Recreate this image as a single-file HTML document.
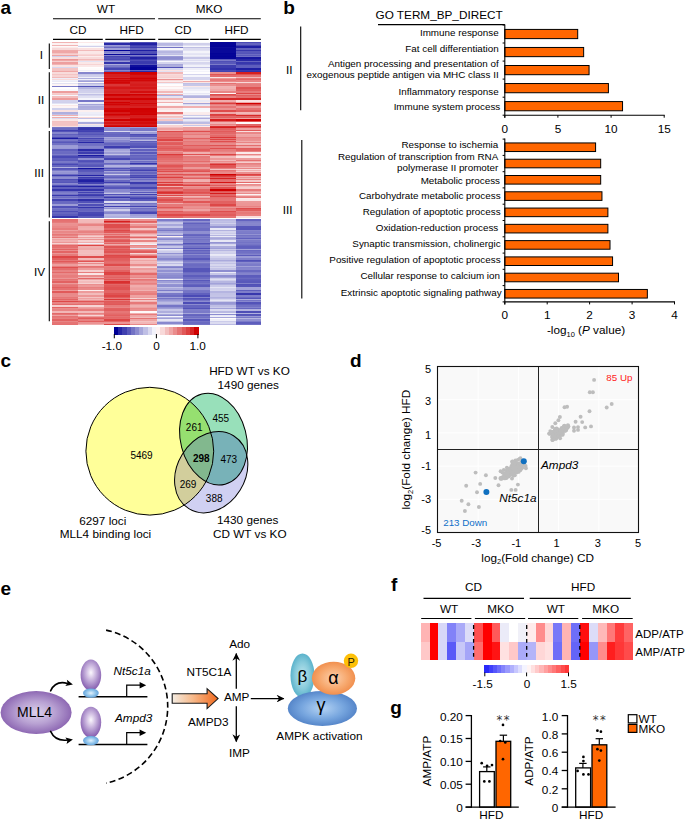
<!DOCTYPE html>
<html lang="en"><head><meta charset="utf-8"><title>Figure</title>
<style>html,body{margin:0;padding:0;background:#fff}svg{display:block}text{font-family:"Liberation Sans", sans-serif}</style>
</head><body>
<svg width="685" height="819" viewBox="0 0 685 819">
<rect width="685" height="819" fill="#fff"/>
<g id="panel-a">
<text x="0.5" y="14.3" font-size="19" font-weight="bold">a</text>
<text x="106.0" y="12.7" font-size="11.75" text-anchor="middle">WT</text>
<text x="209.1" y="12.7" font-size="11.75" text-anchor="middle">MKO</text>
<line x1="53.0" y1="18.8" x2="155.0" y2="18.8" stroke="#000" stroke-width="1.1"/>
<line x1="158.2" y1="18.8" x2="260.8" y2="18.8" stroke="#000" stroke-width="1.1"/>
<text x="78.0" y="34.1" font-size="11.75" text-anchor="middle">CD</text>
<text x="131.7" y="34.1" font-size="11.75" text-anchor="middle">HFD</text>
<text x="183.1" y="34.1" font-size="11.75" text-anchor="middle">CD</text>
<text x="236.5" y="34.1" font-size="11.75" text-anchor="middle">HFD</text>
<line x1="53.0" y1="39.4" x2="102.8" y2="39.4" stroke="#000" stroke-width="1.1"/>
<line x1="105.3" y1="39.4" x2="155.3" y2="39.4" stroke="#000" stroke-width="1.1"/>
<line x1="158.2" y1="39.4" x2="208.7" y2="39.4" stroke="#000" stroke-width="1.1"/>
<line x1="210.3" y1="39.4" x2="260.8" y2="39.4" stroke="#000" stroke-width="1.1"/>
<line x1="49.3" y1="43.6" x2="49.3" y2="68.9" stroke="#000" stroke-width="1.1"/>
<line x1="49.3" y1="72.2" x2="49.3" y2="127.7" stroke="#000" stroke-width="1.1"/>
<line x1="49.3" y1="130.9" x2="49.3" y2="217.6" stroke="#000" stroke-width="1.1"/>
<line x1="49.3" y1="221.2" x2="49.3" y2="321.2" stroke="#000" stroke-width="1.1"/>
<text x="41.4" y="58.9" font-size="11.75" text-anchor="middle">I</text>
<text x="41.0" y="104.3" font-size="11.75" text-anchor="middle">II</text>
<text x="39.1" y="177.3" font-size="11.75" text-anchor="middle">III</text>
<text x="39.6" y="275.8" font-size="11.75" text-anchor="middle">IV</text>
<g shape-rendering="crispEdges">
<g transform="translate(51.60,0)">
<rect y="42" width="26.30" height="1" fill="#f1b4b4"/>
<rect y="43" width="26.30" height="2" fill="#fdf2f2"/>
<rect y="45" width="26.30" height="1" fill="#f1b4b4"/>
<rect y="46" width="26.30" height="1" fill="#fef8f8"/>
<rect y="47" width="26.30" height="1" fill="#fbeaea"/>
<rect y="48" width="26.30" height="2" fill="#f8d8d8"/>
<rect y="50" width="26.30" height="1" fill="#efaaaa"/>
<rect y="51" width="26.30" height="2" fill="#efa7a7"/>
<rect y="53" width="26.30" height="1" fill="#f4c4c4"/>
<rect y="54" width="26.30" height="1" fill="#f7d1d1"/>
<rect y="55" width="26.30" height="1" fill="#eea2a2"/>
<rect y="56" width="26.30" height="1" fill="#d1d1ec"/>
<rect y="57" width="26.30" height="2" fill="#f9dede"/>
<rect y="59" width="26.30" height="1" fill="#eb9595"/>
<rect y="60" width="26.30" height="1" fill="#efa7a7"/>
<rect y="61" width="26.30" height="1" fill="#f6cfcf"/>
<rect y="62" width="26.30" height="2" fill="#ed9e9e"/>
<rect y="64" width="26.30" height="1" fill="#f1b3b3"/>
<rect y="65" width="26.30" height="2" fill="#fae3e3"/>
<rect y="67" width="26.30" height="1" fill="#d7d7ee"/>
<rect y="68" width="26.30" height="2" fill="#f4c5c5"/>
<rect y="70" width="26.30" height="1" fill="#f4c2c2"/>
<rect y="71" width="26.30" height="1" fill="#efa6a6"/>
<rect y="72" width="26.30" height="2" fill="#f8dbdb"/>
<rect y="74" width="26.30" height="1" fill="#f4c5c5"/>
<rect y="75" width="26.30" height="2" fill="#f7d4d4"/>
<rect y="77" width="26.30" height="1" fill="#f2baba"/>
<rect y="78" width="26.30" height="1" fill="#ededf8"/>
<rect y="79" width="26.30" height="1" fill="#f8dbdb"/>
<rect y="80" width="26.30" height="1" fill="#efeff9"/>
<rect y="81" width="26.30" height="1" fill="#e9e9f6"/>
<rect y="82" width="26.30" height="1" fill="#fffdfd"/>
<rect y="83" width="26.30" height="1" fill="#e2e2f3"/>
<rect y="84" width="26.30" height="2" fill="#fdf4f4"/>
<rect y="86" width="26.30" height="1" fill="#7a7ac8"/>
<rect y="87" width="26.30" height="2" fill="#fffefe"/>
<rect y="89" width="26.30" height="2" fill="#f9f9fd"/>
<rect y="91" width="26.30" height="2" fill="#ed9d9d"/>
<rect y="93" width="26.30" height="1" fill="#f6cece"/>
<rect y="94" width="26.30" height="1" fill="#f5c8c8"/>
<rect y="95" width="26.30" height="1" fill="#f6f6fb"/>
<rect y="96" width="26.30" height="2" fill="#f3bebe"/>
<rect y="98" width="26.30" height="2" fill="#ed9b9b"/>
<rect y="100" width="26.30" height="2" fill="#d2d2ed"/>
<rect y="102" width="26.30" height="1" fill="#d0d0ec"/>
<rect y="103" width="26.30" height="1" fill="#e2e2f3"/>
<rect y="104" width="26.30" height="1" fill="#fbfbfd"/>
<rect y="105" width="26.30" height="1" fill="#fbe8e8"/>
<rect y="106" width="26.30" height="2" fill="#fdf5f5"/>
<rect y="108" width="26.30" height="2" fill="#d0d0ec"/>
<rect y="110" width="26.30" height="2" fill="#f9e1e1"/>
<rect y="112" width="26.30" height="2" fill="#afafde"/>
<rect y="114" width="26.30" height="1" fill="#c1c1e6"/>
<rect y="115" width="26.30" height="1" fill="#f1b2b2"/>
<rect y="116" width="26.30" height="1" fill="#f6f6fb"/>
<rect y="117" width="26.30" height="1" fill="#efabab"/>
<rect y="118" width="26.30" height="1" fill="#dbdbf0"/>
<rect y="119" width="26.30" height="2" fill="#fbe7e7"/>
<rect y="121" width="26.30" height="1" fill="#f4c1c1"/>
<rect y="122" width="26.30" height="2" fill="#f4c4c4"/>
<rect y="124" width="26.30" height="1" fill="#f4c3c3"/>
<rect y="125" width="26.30" height="1" fill="#f5c6c6"/>
<rect y="126" width="26.30" height="1" fill="#f9dede"/>
<rect y="127" width="26.30" height="1" fill="#7676c6"/>
<rect y="128" width="26.30" height="2" fill="#6a6ac1"/>
<rect y="130" width="26.30" height="1" fill="#4040b1"/>
<rect y="131" width="26.30" height="1" fill="#5454b8"/>
<rect y="132" width="26.30" height="2" fill="#8585cd"/>
<rect y="134" width="26.30" height="1" fill="#6161be"/>
<rect y="135" width="26.30" height="2" fill="#6f6fc4"/>
<rect y="137" width="26.30" height="1" fill="#4b4bb5"/>
<rect y="138" width="26.30" height="1" fill="#1b1ba1"/>
<rect y="139" width="26.30" height="1" fill="#7272c5"/>
<rect y="140" width="26.30" height="1" fill="#7979c8"/>
<rect y="141" width="26.30" height="1" fill="#6464bf"/>
<rect y="142" width="26.30" height="1" fill="#5858ba"/>
<rect y="143" width="26.30" height="2" fill="#7171c4"/>
<rect y="145" width="26.30" height="1" fill="#9a9ad5"/>
<rect y="146" width="26.30" height="2" fill="#9d9dd7"/>
<rect y="148" width="26.30" height="1" fill="#9999d5"/>
<rect y="149" width="26.30" height="2" fill="#5e5ebd"/>
<rect y="151" width="26.30" height="1" fill="#6d6dc3"/>
<rect y="152" width="26.30" height="2" fill="#6b6bc2"/>
<rect y="154" width="26.30" height="1" fill="#7c7cc9"/>
<rect y="155" width="26.30" height="1" fill="#6161be"/>
<rect y="156" width="26.30" height="2" fill="#4949b4"/>
<rect y="158" width="26.30" height="2" fill="#6060be"/>
<rect y="160" width="26.30" height="1" fill="#5c5cbc"/>
<rect y="161" width="26.30" height="1" fill="#7979c8"/>
<rect y="162" width="26.30" height="1" fill="#7777c7"/>
<rect y="163" width="26.30" height="1" fill="#6060be"/>
<rect y="164" width="26.30" height="1" fill="#4848b4"/>
<rect y="165" width="26.30" height="2" fill="#6464bf"/>
<rect y="167" width="26.30" height="1" fill="#b2b2df"/>
<rect y="168" width="26.30" height="1" fill="#5252b8"/>
<rect y="169" width="26.30" height="1" fill="#5b5bbc"/>
<rect y="170" width="26.30" height="1" fill="#7b7bc9"/>
<rect y="171" width="26.30" height="1" fill="#9d9dd7"/>
<rect y="172" width="26.30" height="2" fill="#9595d3"/>
<rect y="174" width="26.30" height="1" fill="#6c6cc2"/>
<rect y="175" width="26.30" height="1" fill="#3d3daf"/>
<rect y="176" width="26.30" height="1" fill="#7878c7"/>
<rect y="177" width="26.30" height="1" fill="#8d8dd0"/>
<rect y="178" width="26.30" height="1" fill="#8d8dd0"/>
<rect y="179" width="26.30" height="1" fill="#4d4db6"/>
<rect y="180" width="26.30" height="2" fill="#5d5dbc"/>
<rect y="182" width="26.30" height="1" fill="#5656b9"/>
<rect y="183" width="26.30" height="1" fill="#8a8acf"/>
<rect y="184" width="26.30" height="1" fill="#8080cb"/>
<rect y="185" width="26.30" height="1" fill="#5555b9"/>
<rect y="186" width="26.30" height="1" fill="#2f2fa9"/>
<rect y="187" width="26.30" height="2" fill="#6060bd"/>
<rect y="189" width="26.30" height="2" fill="#3535ac"/>
<rect y="191" width="26.30" height="1" fill="#6d6dc3"/>
<rect y="192" width="26.30" height="1" fill="#7b7bc9"/>
<rect y="193" width="26.30" height="1" fill="#8383cc"/>
<rect y="194" width="26.30" height="1" fill="#7070c4"/>
<rect y="195" width="26.30" height="1" fill="#3838ad"/>
<rect y="196" width="26.30" height="1" fill="#7474c6"/>
<rect y="197" width="26.30" height="1" fill="#6d6dc3"/>
<rect y="198" width="26.30" height="1" fill="#8686cd"/>
<rect y="199" width="26.30" height="2" fill="#4242b1"/>
<rect y="201" width="26.30" height="2" fill="#6969c1"/>
<rect y="203" width="26.30" height="1" fill="#6c6cc2"/>
<rect y="204" width="26.30" height="2" fill="#9c9cd6"/>
<rect y="206" width="26.30" height="1" fill="#5050b7"/>
<rect y="207" width="26.30" height="1" fill="#5050b7"/>
<rect y="208" width="26.30" height="1" fill="#7777c7"/>
<rect y="209" width="26.30" height="2" fill="#6d6dc3"/>
<rect y="211" width="26.30" height="1" fill="#4d4db6"/>
<rect y="212" width="26.30" height="2" fill="#6666c0"/>
<rect y="214" width="26.30" height="2" fill="#5c5cbc"/>
<rect y="216" width="26.30" height="2" fill="#3636ac"/>
<rect y="219" width="26.30" height="2" fill="#e57070"/>
<rect y="221" width="26.30" height="1" fill="#e57373"/>
<rect y="222" width="26.30" height="1" fill="#e77b7b"/>
<rect y="223" width="26.30" height="1" fill="#eb9393"/>
<rect y="224" width="26.30" height="2" fill="#eb9090"/>
<rect y="226" width="26.30" height="2" fill="#e98888"/>
<rect y="228" width="26.30" height="2" fill="#e77c7c"/>
<rect y="230" width="26.30" height="1" fill="#eea0a0"/>
<rect y="231" width="26.30" height="2" fill="#e98888"/>
<rect y="233" width="26.30" height="1" fill="#eb9393"/>
<rect y="234" width="26.30" height="1" fill="#e67777"/>
<rect y="235" width="26.30" height="1" fill="#e88282"/>
<rect y="236" width="26.30" height="1" fill="#ec9898"/>
<rect y="237" width="26.30" height="1" fill="#e67676"/>
<rect y="238" width="26.30" height="1" fill="#f2baba"/>
<rect y="239" width="26.30" height="1" fill="#eea3a3"/>
<rect y="240" width="26.30" height="2" fill="#f1b1b1"/>
<rect y="242" width="26.30" height="1" fill="#ec9797"/>
<rect y="243" width="26.30" height="1" fill="#f7d2d2"/>
<rect y="244" width="26.30" height="1" fill="#ed9f9f"/>
<rect y="245" width="26.30" height="1" fill="#e36767"/>
<rect y="246" width="26.30" height="2" fill="#e56f6f"/>
<rect y="248" width="26.30" height="1" fill="#e88383"/>
<rect y="249" width="26.30" height="1" fill="#e26464"/>
<rect y="250" width="26.30" height="1" fill="#ea8d8d"/>
<rect y="251" width="26.30" height="2" fill="#e36565"/>
<rect y="253" width="26.30" height="1" fill="#eb9494"/>
<rect y="254" width="26.30" height="1" fill="#e77b7b"/>
<rect y="255" width="26.30" height="1" fill="#e67979"/>
<rect y="256" width="26.30" height="2" fill="#dd4545"/>
<rect y="258" width="26.30" height="2" fill="#e15f5f"/>
<rect y="260" width="26.30" height="1" fill="#e67878"/>
<rect y="261" width="26.30" height="1" fill="#e05959"/>
<rect y="262" width="26.30" height="1" fill="#e57070"/>
<rect y="263" width="26.30" height="1" fill="#e88181"/>
<rect y="264" width="26.30" height="2" fill="#ed9d9d"/>
<rect y="266" width="26.30" height="1" fill="#e77e7e"/>
<rect y="267" width="26.30" height="1" fill="#df5050"/>
<rect y="268" width="26.30" height="2" fill="#e46c6c"/>
<rect y="270" width="26.30" height="2" fill="#e88383"/>
<rect y="272" width="26.30" height="1" fill="#e36a6a"/>
<rect y="273" width="26.30" height="2" fill="#e98989"/>
<rect y="275" width="26.30" height="2" fill="#e77d7d"/>
<rect y="277" width="26.30" height="1" fill="#e88080"/>
<rect y="278" width="26.30" height="1" fill="#eb9595"/>
<rect y="279" width="26.30" height="1" fill="#e57373"/>
<rect y="280" width="26.30" height="1" fill="#e77c7c"/>
<rect y="281" width="26.30" height="2" fill="#e26262"/>
<rect y="283" width="26.30" height="1" fill="#ec9a9a"/>
<rect y="284" width="26.30" height="1" fill="#e77f7f"/>
<rect y="285" width="26.30" height="2" fill="#e67575"/>
<rect y="287" width="26.30" height="1" fill="#e26161"/>
<rect y="288" width="26.30" height="2" fill="#e57070"/>
<rect y="290" width="26.30" height="1" fill="#ec9999"/>
<rect y="291" width="26.30" height="2" fill="#e15a5a"/>
<rect y="293" width="26.30" height="2" fill="#e98a8a"/>
<rect y="295" width="26.30" height="2" fill="#ea8b8b"/>
<rect y="297" width="26.30" height="1" fill="#e67676"/>
<rect y="298" width="26.30" height="1" fill="#e77d7d"/>
<rect y="299" width="26.30" height="1" fill="#e26464"/>
<rect y="300" width="26.30" height="1" fill="#e88181"/>
<rect y="301" width="26.30" height="1" fill="#dd4949"/>
<rect y="302" width="26.30" height="2" fill="#e88484"/>
<rect y="304" width="26.30" height="1" fill="#e46b6b"/>
<rect y="305" width="26.30" height="2" fill="#f6cfcf"/>
<rect y="307" width="26.30" height="1" fill="#e36565"/>
<rect y="308" width="26.30" height="1" fill="#ea8d8d"/>
<rect y="309" width="26.30" height="2" fill="#e98585"/>
<rect y="311" width="26.30" height="2" fill="#f2b7b7"/>
<rect y="313" width="26.30" height="1" fill="#e36969"/>
<rect y="314" width="26.30" height="1" fill="#e67777"/>
<rect y="315" width="26.30" height="1" fill="#eea3a3"/>
<rect y="316" width="26.30" height="1" fill="#e57373"/>
<rect y="317" width="26.30" height="1" fill="#e67878"/>
<rect y="318" width="26.30" height="1" fill="#e77e7e"/>
<rect y="319" width="26.30" height="2" fill="#e26363"/>
<rect y="321" width="26.30" height="1" fill="#e88585"/>
<rect y="322" width="26.30" height="2" fill="#e57474"/>
<rect y="324" width="26.30" height="0.5" fill="#e57171"/>
</g>
<g transform="translate(77.60,0)">
<rect y="42" width="26.70" height="1" fill="#fbe8e8"/>
<rect y="43" width="26.70" height="2" fill="#fdfdfe"/>
<rect y="45" width="26.70" height="1" fill="#f3f3fa"/>
<rect y="46" width="26.70" height="1" fill="#d1d1ec"/>
<rect y="47" width="26.70" height="1" fill="#fefbfb"/>
<rect y="48" width="26.70" height="2" fill="#fae1e1"/>
<rect y="50" width="26.70" height="1" fill="#f2baba"/>
<rect y="51" width="26.70" height="2" fill="#fbe7e7"/>
<rect y="53" width="26.70" height="1" fill="#fae6e6"/>
<rect y="54" width="26.70" height="1" fill="#f8d6d6"/>
<rect y="55" width="26.70" height="1" fill="#f6cccc"/>
<rect y="56" width="26.70" height="1" fill="#fcecec"/>
<rect y="57" width="26.70" height="2" fill="#f8dada"/>
<rect y="59" width="26.70" height="1" fill="#f2b8b8"/>
<rect y="60" width="26.70" height="1" fill="#f6d0d0"/>
<rect y="61" width="26.70" height="1" fill="#e3e3f3"/>
<rect y="62" width="26.70" height="2" fill="#fbe7e7"/>
<rect y="64" width="26.70" height="1" fill="#f7d3d3"/>
<rect y="65" width="26.70" height="2" fill="#fbe8e8"/>
<rect y="67" width="26.70" height="1" fill="#fffefe"/>
<rect y="68" width="26.70" height="2" fill="#fefbfb"/>
<rect y="70" width="26.70" height="1" fill="#f1f1f9"/>
<rect y="71" width="26.70" height="1" fill="#fefafa"/>
<rect y="72" width="26.70" height="2" fill="#8686cd"/>
<rect y="74" width="26.70" height="1" fill="#c5c5e7"/>
<rect y="75" width="26.70" height="2" fill="#ceceeb"/>
<rect y="77" width="26.70" height="1" fill="#f0f0f9"/>
<rect y="78" width="26.70" height="1" fill="#afafde"/>
<rect y="79" width="26.70" height="1" fill="#f0f0f9"/>
<rect y="80" width="26.70" height="1" fill="#b6b6e1"/>
<rect y="81" width="26.70" height="1" fill="#a0a0d8"/>
<rect y="82" width="26.70" height="1" fill="#fef8f8"/>
<rect y="83" width="26.70" height="1" fill="#b8b8e2"/>
<rect y="84" width="26.70" height="2" fill="#ceceeb"/>
<rect y="86" width="26.70" height="1" fill="#5151b7"/>
<rect y="87" width="26.70" height="2" fill="#b5b5e1"/>
<rect y="89" width="26.70" height="2" fill="#ceceeb"/>
<rect y="91" width="26.70" height="2" fill="#d1d1ec"/>
<rect y="93" width="26.70" height="1" fill="#e5e5f4"/>
<rect y="94" width="26.70" height="1" fill="#c0c0e5"/>
<rect y="95" width="26.70" height="1" fill="#d3d3ed"/>
<rect y="96" width="26.70" height="2" fill="#e0e0f2"/>
<rect y="98" width="26.70" height="2" fill="#f5f5fb"/>
<rect y="100" width="26.70" height="2" fill="#7676c7"/>
<rect y="102" width="26.70" height="1" fill="#ececf7"/>
<rect y="103" width="26.70" height="1" fill="#e9e9f6"/>
<rect y="104" width="26.70" height="1" fill="#a4a4da"/>
<rect y="105" width="26.70" height="1" fill="#c2c2e6"/>
<rect y="106" width="26.70" height="2" fill="#acacdd"/>
<rect y="108" width="26.70" height="2" fill="#afafde"/>
<rect y="110" width="26.70" height="2" fill="#fcf0f0"/>
<rect y="112" width="26.70" height="2" fill="#eeeef8"/>
<rect y="114" width="26.70" height="1" fill="#e8e8f6"/>
<rect y="115" width="26.70" height="1" fill="#ececf7"/>
<rect y="116" width="26.70" height="1" fill="#fefbfb"/>
<rect y="117" width="26.70" height="1" fill="#f8d7d7"/>
<rect y="118" width="26.70" height="1" fill="#c0c0e5"/>
<rect y="119" width="26.70" height="2" fill="#fef7f7"/>
<rect y="121" width="26.70" height="1" fill="#f1f1f9"/>
<rect y="122" width="26.70" height="2" fill="#aaaadc"/>
<rect y="124" width="26.70" height="1" fill="#fae5e5"/>
<rect y="125" width="26.70" height="1" fill="#e0e0f2"/>
<rect y="126" width="26.70" height="1" fill="#e0e0f2"/>
<rect y="127" width="26.70" height="1" fill="#3c3caf"/>
<rect y="128" width="26.70" height="2" fill="#3535ac"/>
<rect y="130" width="26.70" height="1" fill="#4444b2"/>
<rect y="131" width="26.70" height="1" fill="#4141b1"/>
<rect y="132" width="26.70" height="2" fill="#5f5fbd"/>
<rect y="134" width="26.70" height="1" fill="#5555b9"/>
<rect y="135" width="26.70" height="2" fill="#6868c1"/>
<rect y="137" width="26.70" height="1" fill="#7d7dca"/>
<rect y="138" width="26.70" height="1" fill="#4545b2"/>
<rect y="139" width="26.70" height="1" fill="#6565c0"/>
<rect y="140" width="26.70" height="1" fill="#5353b8"/>
<rect y="141" width="26.70" height="1" fill="#5f5fbd"/>
<rect y="142" width="26.70" height="1" fill="#2727a6"/>
<rect y="143" width="26.70" height="2" fill="#6f6fc4"/>
<rect y="145" width="26.70" height="1" fill="#7272c5"/>
<rect y="146" width="26.70" height="2" fill="#8585cd"/>
<rect y="148" width="26.70" height="1" fill="#7e7eca"/>
<rect y="149" width="26.70" height="2" fill="#2b2ba8"/>
<rect y="151" width="26.70" height="1" fill="#5a5abb"/>
<rect y="152" width="26.70" height="2" fill="#3d3daf"/>
<rect y="154" width="26.70" height="1" fill="#8888ce"/>
<rect y="155" width="26.70" height="1" fill="#1b1ba1"/>
<rect y="156" width="26.70" height="2" fill="#4646b3"/>
<rect y="158" width="26.70" height="2" fill="#9191d2"/>
<rect y="160" width="26.70" height="1" fill="#5454b9"/>
<rect y="161" width="26.70" height="1" fill="#4f4fb7"/>
<rect y="162" width="26.70" height="1" fill="#6060be"/>
<rect y="163" width="26.70" height="1" fill="#6a6ac2"/>
<rect y="164" width="26.70" height="1" fill="#5e5ebd"/>
<rect y="165" width="26.70" height="2" fill="#5656b9"/>
<rect y="167" width="26.70" height="1" fill="#8d8dd0"/>
<rect y="168" width="26.70" height="1" fill="#14149e"/>
<rect y="169" width="26.70" height="1" fill="#4d4db6"/>
<rect y="170" width="26.70" height="1" fill="#5656b9"/>
<rect y="171" width="26.70" height="1" fill="#5a5abb"/>
<rect y="172" width="26.70" height="2" fill="#6c6cc2"/>
<rect y="174" width="26.70" height="1" fill="#6868c1"/>
<rect y="175" width="26.70" height="1" fill="#2424a5"/>
<rect y="176" width="26.70" height="1" fill="#7e7eca"/>
<rect y="177" width="26.70" height="1" fill="#3d3daf"/>
<rect y="178" width="26.70" height="1" fill="#4f4fb7"/>
<rect y="179" width="26.70" height="1" fill="#2a2aa7"/>
<rect y="180" width="26.70" height="2" fill="#2121a3"/>
<rect y="182" width="26.70" height="1" fill="#4141b1"/>
<rect y="183" width="26.70" height="1" fill="#4444b2"/>
<rect y="184" width="26.70" height="1" fill="#8787cd"/>
<rect y="185" width="26.70" height="1" fill="#6262be"/>
<rect y="186" width="26.70" height="1" fill="#2222a4"/>
<rect y="187" width="26.70" height="2" fill="#5d5dbc"/>
<rect y="189" width="26.70" height="2" fill="#3434ac"/>
<rect y="191" width="26.70" height="1" fill="#7474c6"/>
<rect y="192" width="26.70" height="1" fill="#4242b1"/>
<rect y="193" width="26.70" height="1" fill="#6f6fc4"/>
<rect y="194" width="26.70" height="1" fill="#4444b2"/>
<rect y="195" width="26.70" height="1" fill="#3a3aae"/>
<rect y="196" width="26.70" height="1" fill="#6161be"/>
<rect y="197" width="26.70" height="1" fill="#6565bf"/>
<rect y="198" width="26.70" height="1" fill="#7c7cc9"/>
<rect y="199" width="26.70" height="2" fill="#2f2fa9"/>
<rect y="201" width="26.70" height="2" fill="#5252b8"/>
<rect y="203" width="26.70" height="1" fill="#8d8dd0"/>
<rect y="204" width="26.70" height="2" fill="#4f4fb7"/>
<rect y="206" width="26.70" height="1" fill="#7575c6"/>
<rect y="207" width="26.70" height="1" fill="#3434ab"/>
<rect y="208" width="26.70" height="1" fill="#6262bf"/>
<rect y="209" width="26.70" height="2" fill="#6464bf"/>
<rect y="211" width="26.70" height="1" fill="#6a6ac2"/>
<rect y="212" width="26.70" height="2" fill="#4949b4"/>
<rect y="214" width="26.70" height="2" fill="#4444b2"/>
<rect y="216" width="26.70" height="2" fill="#5c5cbc"/>
<rect y="219" width="26.70" height="2" fill="#f2baba"/>
<rect y="221" width="26.70" height="1" fill="#f2b9b9"/>
<rect y="222" width="26.70" height="1" fill="#f2b7b7"/>
<rect y="223" width="26.70" height="1" fill="#ed9c9c"/>
<rect y="224" width="26.70" height="2" fill="#e88484"/>
<rect y="226" width="26.70" height="2" fill="#f0acac"/>
<rect y="228" width="26.70" height="2" fill="#f0b0b0"/>
<rect y="230" width="26.70" height="1" fill="#eb9494"/>
<rect y="231" width="26.70" height="2" fill="#e88282"/>
<rect y="233" width="26.70" height="1" fill="#ed9c9c"/>
<rect y="234" width="26.70" height="1" fill="#e98787"/>
<rect y="235" width="26.70" height="1" fill="#f2b7b7"/>
<rect y="236" width="26.70" height="1" fill="#f6cece"/>
<rect y="237" width="26.70" height="1" fill="#ed9e9e"/>
<rect y="238" width="26.70" height="1" fill="#f4c5c5"/>
<rect y="239" width="26.70" height="1" fill="#eb9393"/>
<rect y="240" width="26.70" height="2" fill="#f6cfcf"/>
<rect y="242" width="26.70" height="1" fill="#f0aeae"/>
<rect y="243" width="26.70" height="1" fill="#efeff9"/>
<rect y="244" width="26.70" height="1" fill="#f0aeae"/>
<rect y="245" width="26.70" height="1" fill="#dd4646"/>
<rect y="246" width="26.70" height="2" fill="#f0afaf"/>
<rect y="248" width="26.70" height="1" fill="#efa9a9"/>
<rect y="249" width="26.70" height="1" fill="#efa9a9"/>
<rect y="250" width="26.70" height="1" fill="#f3bebe"/>
<rect y="251" width="26.70" height="2" fill="#f3bdbd"/>
<rect y="253" width="26.70" height="1" fill="#f3c0c0"/>
<rect y="254" width="26.70" height="1" fill="#f2b9b9"/>
<rect y="255" width="26.70" height="1" fill="#f2b8b8"/>
<rect y="256" width="26.70" height="2" fill="#de4d4d"/>
<rect y="258" width="26.70" height="2" fill="#f2baba"/>
<rect y="260" width="26.70" height="1" fill="#e88080"/>
<rect y="261" width="26.70" height="1" fill="#e05454"/>
<rect y="262" width="26.70" height="1" fill="#f4c3c3"/>
<rect y="263" width="26.70" height="1" fill="#e98a8a"/>
<rect y="264" width="26.70" height="2" fill="#f3bcbc"/>
<rect y="266" width="26.70" height="1" fill="#e57272"/>
<rect y="267" width="26.70" height="1" fill="#e77b7b"/>
<rect y="268" width="26.70" height="2" fill="#ed9c9c"/>
<rect y="270" width="26.70" height="2" fill="#f6cece"/>
<rect y="272" width="26.70" height="1" fill="#e77d7d"/>
<rect y="273" width="26.70" height="2" fill="#fae4e4"/>
<rect y="275" width="26.70" height="2" fill="#ea8c8c"/>
<rect y="277" width="26.70" height="1" fill="#f2b6b6"/>
<rect y="278" width="26.70" height="1" fill="#e36767"/>
<rect y="279" width="26.70" height="1" fill="#eea2a2"/>
<rect y="280" width="26.70" height="1" fill="#f5caca"/>
<rect y="281" width="26.70" height="2" fill="#f3bdbd"/>
<rect y="283" width="26.70" height="1" fill="#f6d1d1"/>
<rect y="284" width="26.70" height="1" fill="#ea8e8e"/>
<rect y="285" width="26.70" height="2" fill="#ed9b9b"/>
<rect y="287" width="26.70" height="1" fill="#e88080"/>
<rect y="288" width="26.70" height="2" fill="#e98989"/>
<rect y="290" width="26.70" height="1" fill="#fcecec"/>
<rect y="291" width="26.70" height="2" fill="#ed9b9b"/>
<rect y="293" width="26.70" height="2" fill="#f2bbbb"/>
<rect y="295" width="26.70" height="2" fill="#ec9696"/>
<rect y="297" width="26.70" height="1" fill="#f4c2c2"/>
<rect y="298" width="26.70" height="1" fill="#eea1a1"/>
<rect y="299" width="26.70" height="1" fill="#f1b4b4"/>
<rect y="300" width="26.70" height="1" fill="#eb9393"/>
<rect y="301" width="26.70" height="1" fill="#e05555"/>
<rect y="302" width="26.70" height="2" fill="#e88080"/>
<rect y="304" width="26.70" height="1" fill="#e46e6e"/>
<rect y="305" width="26.70" height="2" fill="#f7d4d4"/>
<rect y="307" width="26.70" height="1" fill="#eea0a0"/>
<rect y="308" width="26.70" height="1" fill="#ec9696"/>
<rect y="309" width="26.70" height="2" fill="#e77d7d"/>
<rect y="311" width="26.70" height="2" fill="#f2baba"/>
<rect y="313" width="26.70" height="1" fill="#e88282"/>
<rect y="314" width="26.70" height="1" fill="#ec9595"/>
<rect y="315" width="26.70" height="1" fill="#f7d5d5"/>
<rect y="316" width="26.70" height="1" fill="#ed9d9d"/>
<rect y="317" width="26.70" height="1" fill="#e46e6e"/>
<rect y="318" width="26.70" height="1" fill="#e15b5b"/>
<rect y="319" width="26.70" height="2" fill="#e88080"/>
<rect y="321" width="26.70" height="1" fill="#e25f5f"/>
<rect y="322" width="26.70" height="2" fill="#eb9393"/>
<rect y="324" width="26.70" height="0.5" fill="#f0afaf"/>
</g>
<g transform="translate(104.00,0)">
<rect y="42" width="26.60" height="1" fill="#8989ce"/>
<rect y="43" width="26.60" height="2" fill="#2929a7"/>
<rect y="45" width="26.60" height="1" fill="#9a9ad5"/>
<rect y="46" width="26.60" height="1" fill="#8585cd"/>
<rect y="47" width="26.60" height="1" fill="#6666c0"/>
<rect y="48" width="26.60" height="2" fill="#a0a0d8"/>
<rect y="50" width="26.60" height="1" fill="#020297"/>
<rect y="51" width="26.60" height="2" fill="#8383cc"/>
<rect y="53" width="26.60" height="1" fill="#9898d4"/>
<rect y="54" width="26.60" height="1" fill="#080899"/>
<rect y="55" width="26.60" height="1" fill="#8585cd"/>
<rect y="56" width="26.60" height="1" fill="#4747b3"/>
<rect y="57" width="26.60" height="2" fill="#5252b8"/>
<rect y="59" width="26.60" height="1" fill="#4949b4"/>
<rect y="60" width="26.60" height="1" fill="#7272c5"/>
<rect y="61" width="26.60" height="1" fill="#9797d4"/>
<rect y="62" width="26.60" height="2" fill="#3434ab"/>
<rect y="64" width="26.60" height="1" fill="#acacdd"/>
<rect y="65" width="26.60" height="2" fill="#7b7bc8"/>
<rect y="67" width="26.60" height="1" fill="#6161be"/>
<rect y="68" width="26.60" height="2" fill="#4545b3"/>
<rect y="70" width="26.60" height="1" fill="#8787ce"/>
<rect y="71" width="26.60" height="1" fill="#6565c0"/>
<rect y="72" width="26.60" height="2" fill="#d20909"/>
<rect y="74" width="26.60" height="1" fill="#d62121"/>
<rect y="75" width="26.60" height="2" fill="#d62020"/>
<rect y="77" width="26.60" height="1" fill="#d82a2a"/>
<rect y="78" width="26.60" height="1" fill="#d10707"/>
<rect y="79" width="26.60" height="1" fill="#d61f1f"/>
<rect y="80" width="26.60" height="1" fill="#d10606"/>
<rect y="81" width="26.60" height="1" fill="#d30e0e"/>
<rect y="82" width="26.60" height="1" fill="#d10505"/>
<rect y="83" width="26.60" height="1" fill="#d31010"/>
<rect y="84" width="26.60" height="2" fill="#da3636"/>
<rect y="86" width="26.60" height="1" fill="#d72727"/>
<rect y="87" width="26.60" height="2" fill="#d41818"/>
<rect y="89" width="26.60" height="2" fill="#d72626"/>
<rect y="91" width="26.60" height="2" fill="#d62222"/>
<rect y="93" width="26.60" height="1" fill="#d82c2c"/>
<rect y="94" width="26.60" height="1" fill="#d00000"/>
<rect y="95" width="26.60" height="1" fill="#d10505"/>
<rect y="96" width="26.60" height="2" fill="#d61f1f"/>
<rect y="98" width="26.60" height="2" fill="#d00000"/>
<rect y="100" width="26.60" height="2" fill="#d62222"/>
<rect y="102" width="26.60" height="1" fill="#d00000"/>
<rect y="103" width="26.60" height="1" fill="#d31212"/>
<rect y="104" width="26.60" height="1" fill="#d10505"/>
<rect y="105" width="26.60" height="1" fill="#d51919"/>
<rect y="106" width="26.60" height="2" fill="#d62323"/>
<rect y="108" width="26.60" height="2" fill="#d20909"/>
<rect y="110" width="26.60" height="2" fill="#d00000"/>
<rect y="112" width="26.60" height="2" fill="#d51a1a"/>
<rect y="114" width="26.60" height="1" fill="#d00202"/>
<rect y="115" width="26.60" height="1" fill="#d31212"/>
<rect y="116" width="26.60" height="1" fill="#d72424"/>
<rect y="117" width="26.60" height="1" fill="#d72828"/>
<rect y="118" width="26.60" height="1" fill="#d93232"/>
<rect y="119" width="26.60" height="2" fill="#d00000"/>
<rect y="121" width="26.60" height="1" fill="#d92f2f"/>
<rect y="122" width="26.60" height="2" fill="#d41616"/>
<rect y="124" width="26.60" height="1" fill="#d82b2b"/>
<rect y="125" width="26.60" height="1" fill="#d31010"/>
<rect y="126" width="26.60" height="1" fill="#d00000"/>
<rect y="127" width="26.60" height="1" fill="#9898d5"/>
<rect y="128" width="26.60" height="2" fill="#8a8acf"/>
<rect y="130" width="26.60" height="1" fill="#8787ce"/>
<rect y="131" width="26.60" height="1" fill="#dadaf0"/>
<rect y="132" width="26.60" height="2" fill="#6d6dc3"/>
<rect y="134" width="26.60" height="1" fill="#6565bf"/>
<rect y="135" width="26.60" height="2" fill="#6868c1"/>
<rect y="137" width="26.60" height="1" fill="#aaaadc"/>
<rect y="138" width="26.60" height="1" fill="#9595d3"/>
<rect y="139" width="26.60" height="1" fill="#a5a5da"/>
<rect y="140" width="26.60" height="1" fill="#8888ce"/>
<rect y="141" width="26.60" height="1" fill="#8b8bcf"/>
<rect y="142" width="26.60" height="1" fill="#7474c6"/>
<rect y="143" width="26.60" height="2" fill="#6363bf"/>
<rect y="145" width="26.60" height="1" fill="#7272c5"/>
<rect y="146" width="26.60" height="2" fill="#3c3caf"/>
<rect y="148" width="26.60" height="1" fill="#6d6dc3"/>
<rect y="149" width="26.60" height="2" fill="#a6a6db"/>
<rect y="151" width="26.60" height="1" fill="#b4b4e0"/>
<rect y="152" width="26.60" height="2" fill="#9c9cd6"/>
<rect y="154" width="26.60" height="1" fill="#c3c3e6"/>
<rect y="155" width="26.60" height="1" fill="#8181cb"/>
<rect y="156" width="26.60" height="2" fill="#6666c0"/>
<rect y="158" width="26.60" height="2" fill="#4646b3"/>
<rect y="160" width="26.60" height="1" fill="#9595d3"/>
<rect y="161" width="26.60" height="1" fill="#9999d5"/>
<rect y="162" width="26.60" height="1" fill="#9999d5"/>
<rect y="163" width="26.60" height="1" fill="#6767c1"/>
<rect y="164" width="26.60" height="1" fill="#7979c8"/>
<rect y="165" width="26.60" height="2" fill="#b2b2df"/>
<rect y="167" width="26.60" height="1" fill="#8f8fd1"/>
<rect y="168" width="26.60" height="1" fill="#5252b8"/>
<rect y="169" width="26.60" height="1" fill="#7676c7"/>
<rect y="170" width="26.60" height="1" fill="#5959bb"/>
<rect y="171" width="26.60" height="1" fill="#a7a7db"/>
<rect y="172" width="26.60" height="2" fill="#8484cc"/>
<rect y="174" width="26.60" height="1" fill="#c9c9e9"/>
<rect y="175" width="26.60" height="1" fill="#7c7cc9"/>
<rect y="176" width="26.60" height="1" fill="#6d6dc3"/>
<rect y="177" width="26.60" height="1" fill="#6161be"/>
<rect y="178" width="26.60" height="1" fill="#8282cc"/>
<rect y="179" width="26.60" height="1" fill="#9797d4"/>
<rect y="180" width="26.60" height="2" fill="#6767c0"/>
<rect y="182" width="26.60" height="1" fill="#3f3fb0"/>
<rect y="183" width="26.60" height="1" fill="#8484cc"/>
<rect y="184" width="26.60" height="1" fill="#a2a2d9"/>
<rect y="185" width="26.60" height="1" fill="#7979c8"/>
<rect y="186" width="26.60" height="1" fill="#6464bf"/>
<rect y="187" width="26.60" height="2" fill="#5656ba"/>
<rect y="189" width="26.60" height="2" fill="#8a8acf"/>
<rect y="191" width="26.60" height="1" fill="#8a8acf"/>
<rect y="192" width="26.60" height="1" fill="#9f9fd8"/>
<rect y="193" width="26.60" height="1" fill="#c5c5e7"/>
<rect y="194" width="26.60" height="1" fill="#5252b8"/>
<rect y="195" width="26.60" height="1" fill="#8f8fd1"/>
<rect y="196" width="26.60" height="1" fill="#6565c0"/>
<rect y="197" width="26.60" height="1" fill="#3939ad"/>
<rect y="198" width="26.60" height="1" fill="#7777c7"/>
<rect y="199" width="26.60" height="2" fill="#6868c1"/>
<rect y="201" width="26.60" height="2" fill="#dfdff2"/>
<rect y="203" width="26.60" height="1" fill="#6565c0"/>
<rect y="204" width="26.60" height="2" fill="#aeaede"/>
<rect y="206" width="26.60" height="1" fill="#4141b1"/>
<rect y="207" width="26.60" height="1" fill="#ababdd"/>
<rect y="208" width="26.60" height="1" fill="#9393d2"/>
<rect y="209" width="26.60" height="2" fill="#ceceeb"/>
<rect y="211" width="26.60" height="1" fill="#9b9bd6"/>
<rect y="212" width="26.60" height="2" fill="#8787ce"/>
<rect y="214" width="26.60" height="2" fill="#b8b8e2"/>
<rect y="216" width="26.60" height="2" fill="#afafde"/>
<rect y="219" width="26.60" height="2" fill="#e57373"/>
<rect y="221" width="26.60" height="1" fill="#d61e1e"/>
<rect y="222" width="26.60" height="1" fill="#df4f4f"/>
<rect y="223" width="26.60" height="1" fill="#e98888"/>
<rect y="224" width="26.60" height="2" fill="#de4c4c"/>
<rect y="226" width="26.60" height="2" fill="#de4d4d"/>
<rect y="228" width="26.60" height="2" fill="#e36767"/>
<rect y="230" width="26.60" height="1" fill="#dd4848"/>
<rect y="231" width="26.60" height="2" fill="#e05959"/>
<rect y="233" width="26.60" height="1" fill="#eb9090"/>
<rect y="234" width="26.60" height="1" fill="#e36a6a"/>
<rect y="235" width="26.60" height="1" fill="#ea8d8d"/>
<rect y="236" width="26.60" height="1" fill="#e15c5c"/>
<rect y="237" width="26.60" height="1" fill="#e15f5f"/>
<rect y="238" width="26.60" height="1" fill="#e98a8a"/>
<rect y="239" width="26.60" height="1" fill="#e36868"/>
<rect y="240" width="26.60" height="2" fill="#e05757"/>
<rect y="242" width="26.60" height="1" fill="#e88383"/>
<rect y="243" width="26.60" height="1" fill="#e36565"/>
<rect y="244" width="26.60" height="1" fill="#efaaaa"/>
<rect y="245" width="26.60" height="1" fill="#e98888"/>
<rect y="246" width="26.60" height="2" fill="#df5454"/>
<rect y="248" width="26.60" height="1" fill="#e46b6b"/>
<rect y="249" width="26.60" height="1" fill="#e05656"/>
<rect y="250" width="26.60" height="1" fill="#e15f5f"/>
<rect y="251" width="26.60" height="2" fill="#df5454"/>
<rect y="253" width="26.60" height="1" fill="#e67676"/>
<rect y="254" width="26.60" height="1" fill="#e46e6e"/>
<rect y="255" width="26.60" height="1" fill="#dd4848"/>
<rect y="256" width="26.60" height="2" fill="#df4f4f"/>
<rect y="258" width="26.60" height="2" fill="#e15e5e"/>
<rect y="260" width="26.60" height="1" fill="#e26161"/>
<rect y="261" width="26.60" height="1" fill="#e46a6a"/>
<rect y="262" width="26.60" height="1" fill="#e46f6f"/>
<rect y="263" width="26.60" height="1" fill="#e36868"/>
<rect y="264" width="26.60" height="2" fill="#de4b4b"/>
<rect y="266" width="26.60" height="1" fill="#e88181"/>
<rect y="267" width="26.60" height="1" fill="#e67777"/>
<rect y="268" width="26.60" height="2" fill="#e67979"/>
<rect y="270" width="26.60" height="2" fill="#e26363"/>
<rect y="272" width="26.60" height="1" fill="#dc4242"/>
<rect y="273" width="26.60" height="2" fill="#dd4545"/>
<rect y="275" width="26.60" height="2" fill="#e46b6b"/>
<rect y="277" width="26.60" height="1" fill="#e26363"/>
<rect y="278" width="26.60" height="1" fill="#e57171"/>
<rect y="279" width="26.60" height="1" fill="#e05656"/>
<rect y="280" width="26.60" height="1" fill="#e57070"/>
<rect y="281" width="26.60" height="2" fill="#d92f2f"/>
<rect y="283" width="26.60" height="1" fill="#dc3f3f"/>
<rect y="284" width="26.60" height="1" fill="#e36767"/>
<rect y="285" width="26.60" height="2" fill="#e15a5a"/>
<rect y="287" width="26.60" height="1" fill="#df5252"/>
<rect y="288" width="26.60" height="2" fill="#df5252"/>
<rect y="290" width="26.60" height="1" fill="#e36565"/>
<rect y="291" width="26.60" height="2" fill="#e36565"/>
<rect y="293" width="26.60" height="2" fill="#df5353"/>
<rect y="295" width="26.60" height="2" fill="#dd4545"/>
<rect y="297" width="26.60" height="1" fill="#e15c5c"/>
<rect y="298" width="26.60" height="1" fill="#e77c7c"/>
<rect y="299" width="26.60" height="1" fill="#da3737"/>
<rect y="300" width="26.60" height="1" fill="#e67979"/>
<rect y="301" width="26.60" height="1" fill="#e05959"/>
<rect y="302" width="26.60" height="2" fill="#e15d5d"/>
<rect y="304" width="26.60" height="1" fill="#e05858"/>
<rect y="305" width="26.60" height="2" fill="#e77d7d"/>
<rect y="307" width="26.60" height="1" fill="#e98585"/>
<rect y="308" width="26.60" height="1" fill="#e26262"/>
<rect y="309" width="26.60" height="2" fill="#e15f5f"/>
<rect y="311" width="26.60" height="2" fill="#e67676"/>
<rect y="313" width="26.60" height="1" fill="#e46f6f"/>
<rect y="314" width="26.60" height="1" fill="#e36969"/>
<rect y="315" width="26.60" height="1" fill="#e26060"/>
<rect y="316" width="26.60" height="1" fill="#e57171"/>
<rect y="317" width="26.60" height="1" fill="#e36868"/>
<rect y="318" width="26.60" height="1" fill="#e46c6c"/>
<rect y="319" width="26.60" height="2" fill="#dd4646"/>
<rect y="321" width="26.60" height="1" fill="#e36868"/>
<rect y="322" width="26.60" height="2" fill="#ec9595"/>
<rect y="324" width="26.60" height="0.5" fill="#dd4949"/>
</g>
<g transform="translate(130.30,0)">
<rect y="42" width="27.00" height="1" fill="#4c4cb5"/>
<rect y="43" width="27.00" height="2" fill="#2121a4"/>
<rect y="45" width="27.00" height="1" fill="#4040b1"/>
<rect y="46" width="27.00" height="1" fill="#4e4eb6"/>
<rect y="47" width="27.00" height="1" fill="#3e3eb0"/>
<rect y="48" width="27.00" height="2" fill="#6565bf"/>
<rect y="50" width="27.00" height="1" fill="#1e1ea2"/>
<rect y="51" width="27.00" height="2" fill="#5050b7"/>
<rect y="53" width="27.00" height="1" fill="#4d4db6"/>
<rect y="54" width="27.00" height="1" fill="#13139e"/>
<rect y="55" width="27.00" height="1" fill="#7f7fca"/>
<rect y="56" width="27.00" height="1" fill="#5656ba"/>
<rect y="57" width="27.00" height="2" fill="#2222a4"/>
<rect y="59" width="27.00" height="1" fill="#3a3aae"/>
<rect y="60" width="27.00" height="1" fill="#4f4fb7"/>
<rect y="61" width="27.00" height="1" fill="#3b3bae"/>
<rect y="62" width="27.00" height="2" fill="#3a3aae"/>
<rect y="64" width="27.00" height="1" fill="#5252b8"/>
<rect y="65" width="27.00" height="2" fill="#0e0e9c"/>
<rect y="67" width="27.00" height="1" fill="#040498"/>
<rect y="68" width="27.00" height="2" fill="#030397"/>
<rect y="70" width="27.00" height="1" fill="#5d5dbc"/>
<rect y="71" width="27.00" height="1" fill="#2b2ba8"/>
<rect y="72" width="27.00" height="2" fill="#d00000"/>
<rect y="74" width="27.00" height="1" fill="#d10606"/>
<rect y="75" width="27.00" height="2" fill="#d41717"/>
<rect y="77" width="27.00" height="1" fill="#d31010"/>
<rect y="78" width="27.00" height="1" fill="#d00000"/>
<rect y="79" width="27.00" height="1" fill="#d20d0d"/>
<rect y="80" width="27.00" height="1" fill="#d10707"/>
<rect y="81" width="27.00" height="1" fill="#d51a1a"/>
<rect y="82" width="27.00" height="1" fill="#d72424"/>
<rect y="83" width="27.00" height="1" fill="#d62121"/>
<rect y="84" width="27.00" height="2" fill="#d51c1c"/>
<rect y="86" width="27.00" height="1" fill="#d62323"/>
<rect y="87" width="27.00" height="2" fill="#d41717"/>
<rect y="89" width="27.00" height="2" fill="#d82929"/>
<rect y="91" width="27.00" height="2" fill="#d30e0e"/>
<rect y="93" width="27.00" height="1" fill="#da3737"/>
<rect y="94" width="27.00" height="1" fill="#d00000"/>
<rect y="95" width="27.00" height="1" fill="#d30f0f"/>
<rect y="96" width="27.00" height="2" fill="#d51d1d"/>
<rect y="98" width="27.00" height="2" fill="#d00000"/>
<rect y="100" width="27.00" height="2" fill="#d51a1a"/>
<rect y="102" width="27.00" height="1" fill="#d51d1d"/>
<rect y="103" width="27.00" height="1" fill="#d10606"/>
<rect y="104" width="27.00" height="1" fill="#d51a1a"/>
<rect y="105" width="27.00" height="1" fill="#d41717"/>
<rect y="106" width="27.00" height="2" fill="#d62222"/>
<rect y="108" width="27.00" height="2" fill="#d00000"/>
<rect y="110" width="27.00" height="2" fill="#d10303"/>
<rect y="112" width="27.00" height="2" fill="#d10606"/>
<rect y="114" width="27.00" height="1" fill="#d00000"/>
<rect y="115" width="27.00" height="1" fill="#d61e1e"/>
<rect y="116" width="27.00" height="1" fill="#d51d1d"/>
<rect y="117" width="27.00" height="1" fill="#d62020"/>
<rect y="118" width="27.00" height="1" fill="#d20d0d"/>
<rect y="119" width="27.00" height="2" fill="#d00000"/>
<rect y="121" width="27.00" height="1" fill="#d41414"/>
<rect y="122" width="27.00" height="2" fill="#d20a0a"/>
<rect y="124" width="27.00" height="1" fill="#d51919"/>
<rect y="125" width="27.00" height="1" fill="#d31313"/>
<rect y="126" width="27.00" height="1" fill="#d00000"/>
<rect y="127" width="27.00" height="1" fill="#9d9dd7"/>
<rect y="128" width="27.00" height="2" fill="#7676c6"/>
<rect y="130" width="27.00" height="1" fill="#7575c6"/>
<rect y="131" width="27.00" height="1" fill="#c4c4e7"/>
<rect y="132" width="27.00" height="2" fill="#9f9fd8"/>
<rect y="134" width="27.00" height="1" fill="#4e4eb6"/>
<rect y="135" width="27.00" height="2" fill="#5a5abb"/>
<rect y="137" width="27.00" height="1" fill="#9494d3"/>
<rect y="138" width="27.00" height="1" fill="#7777c7"/>
<rect y="139" width="27.00" height="1" fill="#9292d2"/>
<rect y="140" width="27.00" height="1" fill="#babae2"/>
<rect y="141" width="27.00" height="1" fill="#5d5dbc"/>
<rect y="142" width="27.00" height="1" fill="#6f6fc4"/>
<rect y="143" width="27.00" height="2" fill="#5f5fbd"/>
<rect y="145" width="27.00" height="1" fill="#5a5abb"/>
<rect y="146" width="27.00" height="2" fill="#5050b7"/>
<rect y="148" width="27.00" height="1" fill="#a2a2d9"/>
<rect y="149" width="27.00" height="2" fill="#6161be"/>
<rect y="151" width="27.00" height="1" fill="#8888ce"/>
<rect y="152" width="27.00" height="2" fill="#5959bb"/>
<rect y="154" width="27.00" height="1" fill="#8282cc"/>
<rect y="155" width="27.00" height="1" fill="#6262be"/>
<rect y="156" width="27.00" height="2" fill="#6a6ac1"/>
<rect y="158" width="27.00" height="2" fill="#6161be"/>
<rect y="160" width="27.00" height="1" fill="#9696d4"/>
<rect y="161" width="27.00" height="1" fill="#6c6cc2"/>
<rect y="162" width="27.00" height="1" fill="#7c7cc9"/>
<rect y="163" width="27.00" height="1" fill="#3434ab"/>
<rect y="164" width="27.00" height="1" fill="#6161be"/>
<rect y="165" width="27.00" height="2" fill="#b5b5e1"/>
<rect y="167" width="27.00" height="1" fill="#6c6cc2"/>
<rect y="168" width="27.00" height="1" fill="#6868c1"/>
<rect y="169" width="27.00" height="1" fill="#5a5abb"/>
<rect y="170" width="27.00" height="1" fill="#4141b1"/>
<rect y="171" width="27.00" height="1" fill="#7979c8"/>
<rect y="172" width="27.00" height="2" fill="#6666c0"/>
<rect y="174" width="27.00" height="1" fill="#7c7cc9"/>
<rect y="175" width="27.00" height="1" fill="#4a4ab5"/>
<rect y="176" width="27.00" height="1" fill="#5858ba"/>
<rect y="177" width="27.00" height="1" fill="#4444b2"/>
<rect y="178" width="27.00" height="1" fill="#8282cb"/>
<rect y="179" width="27.00" height="1" fill="#6b6bc2"/>
<rect y="180" width="27.00" height="2" fill="#8787ce"/>
<rect y="182" width="27.00" height="1" fill="#3939ad"/>
<rect y="183" width="27.00" height="1" fill="#3c3caf"/>
<rect y="184" width="27.00" height="1" fill="#6868c1"/>
<rect y="185" width="27.00" height="1" fill="#6e6ec3"/>
<rect y="186" width="27.00" height="1" fill="#6a6ac2"/>
<rect y="187" width="27.00" height="2" fill="#4747b3"/>
<rect y="189" width="27.00" height="2" fill="#7979c8"/>
<rect y="191" width="27.00" height="1" fill="#9999d5"/>
<rect y="192" width="27.00" height="1" fill="#5959bb"/>
<rect y="193" width="27.00" height="1" fill="#a2a2d9"/>
<rect y="194" width="27.00" height="1" fill="#4040b0"/>
<rect y="195" width="27.00" height="1" fill="#8787cd"/>
<rect y="196" width="27.00" height="1" fill="#6c6cc2"/>
<rect y="197" width="27.00" height="1" fill="#5353b8"/>
<rect y="198" width="27.00" height="1" fill="#4141b1"/>
<rect y="199" width="27.00" height="2" fill="#5858ba"/>
<rect y="201" width="27.00" height="2" fill="#c5c5e7"/>
<rect y="203" width="27.00" height="1" fill="#7676c6"/>
<rect y="204" width="27.00" height="2" fill="#8585cd"/>
<rect y="206" width="27.00" height="1" fill="#4444b2"/>
<rect y="207" width="27.00" height="1" fill="#9797d4"/>
<rect y="208" width="27.00" height="1" fill="#6f6fc4"/>
<rect y="209" width="27.00" height="2" fill="#7b7bc9"/>
<rect y="211" width="27.00" height="1" fill="#6161be"/>
<rect y="212" width="27.00" height="2" fill="#4848b4"/>
<rect y="214" width="27.00" height="2" fill="#9e9ed7"/>
<rect y="216" width="27.00" height="2" fill="#a9a9dc"/>
<rect y="219" width="27.00" height="2" fill="#eb9494"/>
<rect y="221" width="27.00" height="1" fill="#e26262"/>
<rect y="222" width="27.00" height="1" fill="#e46e6e"/>
<rect y="223" width="27.00" height="1" fill="#f4c1c1"/>
<rect y="224" width="27.00" height="2" fill="#ec9898"/>
<rect y="226" width="27.00" height="2" fill="#e67979"/>
<rect y="228" width="27.00" height="2" fill="#f4c4c4"/>
<rect y="230" width="27.00" height="1" fill="#ea8c8c"/>
<rect y="231" width="27.00" height="2" fill="#e57070"/>
<rect y="233" width="27.00" height="1" fill="#ec9999"/>
<rect y="234" width="27.00" height="1" fill="#f2b8b8"/>
<rect y="235" width="27.00" height="1" fill="#f5caca"/>
<rect y="236" width="27.00" height="1" fill="#ec9999"/>
<rect y="237" width="27.00" height="1" fill="#e36666"/>
<rect y="238" width="27.00" height="1" fill="#f2b9b9"/>
<rect y="239" width="27.00" height="1" fill="#f7d4d4"/>
<rect y="240" width="27.00" height="2" fill="#e88484"/>
<rect y="242" width="27.00" height="1" fill="#f7d5d5"/>
<rect y="243" width="27.00" height="1" fill="#f9dddd"/>
<rect y="244" width="27.00" height="1" fill="#f1f1f9"/>
<rect y="245" width="27.00" height="1" fill="#e98585"/>
<rect y="246" width="27.00" height="2" fill="#ec9898"/>
<rect y="248" width="27.00" height="1" fill="#e2e2f3"/>
<rect y="249" width="27.00" height="1" fill="#eb9595"/>
<rect y="250" width="27.00" height="1" fill="#e57171"/>
<rect y="251" width="27.00" height="2" fill="#e15e5e"/>
<rect y="253" width="27.00" height="1" fill="#f7d4d4"/>
<rect y="254" width="27.00" height="1" fill="#eea2a2"/>
<rect y="255" width="27.00" height="1" fill="#e77f7f"/>
<rect y="256" width="27.00" height="2" fill="#de4949"/>
<rect y="258" width="27.00" height="2" fill="#f4c1c1"/>
<rect y="260" width="27.00" height="1" fill="#eea5a5"/>
<rect y="261" width="27.00" height="1" fill="#f3bbbb"/>
<rect y="262" width="27.00" height="1" fill="#f2b6b6"/>
<rect y="263" width="27.00" height="1" fill="#f2b6b6"/>
<rect y="264" width="27.00" height="2" fill="#ea8d8d"/>
<rect y="266" width="27.00" height="1" fill="#f4c1c1"/>
<rect y="267" width="27.00" height="1" fill="#f7d5d5"/>
<rect y="268" width="27.00" height="2" fill="#ed9d9d"/>
<rect y="270" width="27.00" height="2" fill="#f0adad"/>
<rect y="272" width="27.00" height="1" fill="#ec9898"/>
<rect y="273" width="27.00" height="2" fill="#e46a6a"/>
<rect y="275" width="27.00" height="2" fill="#eb9090"/>
<rect y="277" width="27.00" height="1" fill="#e98888"/>
<rect y="278" width="27.00" height="1" fill="#f0b0b0"/>
<rect y="279" width="27.00" height="1" fill="#e67575"/>
<rect y="280" width="27.00" height="1" fill="#e88080"/>
<rect y="281" width="27.00" height="2" fill="#eb9393"/>
<rect y="283" width="27.00" height="1" fill="#e88080"/>
<rect y="284" width="27.00" height="1" fill="#ea8d8d"/>
<rect y="285" width="27.00" height="2" fill="#f0acac"/>
<rect y="287" width="27.00" height="1" fill="#eea4a4"/>
<rect y="288" width="27.00" height="2" fill="#ed9f9f"/>
<rect y="290" width="27.00" height="1" fill="#f1b1b1"/>
<rect y="291" width="27.00" height="2" fill="#e98888"/>
<rect y="293" width="27.00" height="2" fill="#e77d7d"/>
<rect y="295" width="27.00" height="2" fill="#eea2a2"/>
<rect y="297" width="27.00" height="1" fill="#ed9d9d"/>
<rect y="298" width="27.00" height="1" fill="#f7d2d2"/>
<rect y="299" width="27.00" height="1" fill="#e88080"/>
<rect y="300" width="27.00" height="1" fill="#f5c7c7"/>
<rect y="301" width="27.00" height="1" fill="#f1b4b4"/>
<rect y="302" width="27.00" height="2" fill="#e67979"/>
<rect y="304" width="27.00" height="1" fill="#ec9999"/>
<rect y="305" width="27.00" height="2" fill="#f0afaf"/>
<rect y="307" width="27.00" height="1" fill="#eea3a3"/>
<rect y="308" width="27.00" height="1" fill="#e98888"/>
<rect y="309" width="27.00" height="2" fill="#ea8f8f"/>
<rect y="311" width="27.00" height="2" fill="#fef9f9"/>
<rect y="313" width="27.00" height="1" fill="#f1b0b0"/>
<rect y="314" width="27.00" height="1" fill="#e77b7b"/>
<rect y="315" width="27.00" height="1" fill="#efa6a6"/>
<rect y="316" width="27.00" height="1" fill="#efa9a9"/>
<rect y="317" width="27.00" height="1" fill="#f2baba"/>
<rect y="318" width="27.00" height="1" fill="#e57474"/>
<rect y="319" width="27.00" height="2" fill="#eea4a4"/>
<rect y="321" width="27.00" height="1" fill="#f4c2c2"/>
<rect y="322" width="27.00" height="2" fill="#f2b7b7"/>
<rect y="324" width="27.00" height="0.5" fill="#e98888"/>
</g>
<g transform="translate(157.00,0)">
<rect y="42" width="26.40" height="1" fill="#e1e1f2"/>
<rect y="43" width="26.40" height="2" fill="#b7b7e2"/>
<rect y="45" width="26.40" height="1" fill="#bebee4"/>
<rect y="46" width="26.40" height="1" fill="#e4e4f4"/>
<rect y="47" width="26.40" height="1" fill="#7373c5"/>
<rect y="48" width="26.40" height="2" fill="#f6f6fb"/>
<rect y="50" width="26.40" height="1" fill="#d0d0ec"/>
<rect y="51" width="26.40" height="2" fill="#b7b7e1"/>
<rect y="53" width="26.40" height="1" fill="#c4c4e7"/>
<rect y="54" width="26.40" height="1" fill="#c0c0e5"/>
<rect y="55" width="26.40" height="1" fill="#e7e7f5"/>
<rect y="56" width="26.40" height="1" fill="#9a9ad5"/>
<rect y="57" width="26.40" height="2" fill="#8d8dd0"/>
<rect y="59" width="26.40" height="1" fill="#9494d3"/>
<rect y="60" width="26.40" height="1" fill="#ceceeb"/>
<rect y="61" width="26.40" height="1" fill="#f7f7fc"/>
<rect y="62" width="26.40" height="2" fill="#d4d4ed"/>
<rect y="64" width="26.40" height="1" fill="#a7a7db"/>
<rect y="65" width="26.40" height="2" fill="#adaddd"/>
<rect y="67" width="26.40" height="1" fill="#5252b8"/>
<rect y="68" width="26.40" height="2" fill="#d7d7ef"/>
<rect y="70" width="26.40" height="1" fill="#fae3e3"/>
<rect y="71" width="26.40" height="1" fill="#e2e2f3"/>
<rect y="72" width="26.40" height="2" fill="#f2b8b8"/>
<rect y="74" width="26.40" height="1" fill="#f8dbdb"/>
<rect y="75" width="26.40" height="2" fill="#f7d4d4"/>
<rect y="77" width="26.40" height="1" fill="#f6cfcf"/>
<rect y="78" width="26.40" height="1" fill="#fae3e3"/>
<rect y="79" width="26.40" height="1" fill="#eb9393"/>
<rect y="80" width="26.40" height="1" fill="#f8d9d9"/>
<rect y="81" width="26.40" height="1" fill="#fbeaea"/>
<rect y="82" width="26.40" height="1" fill="#f4c5c5"/>
<rect y="83" width="26.40" height="1" fill="#ededf7"/>
<rect y="84" width="26.40" height="2" fill="#fffdfd"/>
<rect y="86" width="26.40" height="1" fill="#fbe8e8"/>
<rect y="87" width="26.40" height="2" fill="#fef9f9"/>
<rect y="89" width="26.40" height="2" fill="#fae6e6"/>
<rect y="91" width="26.40" height="2" fill="#f2b8b8"/>
<rect y="93" width="26.40" height="1" fill="#f1f1f9"/>
<rect y="94" width="26.40" height="1" fill="#f0acac"/>
<rect y="95" width="26.40" height="1" fill="#adaddd"/>
<rect y="96" width="26.40" height="2" fill="#e4e4f4"/>
<rect y="98" width="26.40" height="2" fill="#f1b3b3"/>
<rect y="100" width="26.40" height="2" fill="#fbeaea"/>
<rect y="102" width="26.40" height="1" fill="#f0afaf"/>
<rect y="103" width="26.40" height="1" fill="#fef8f8"/>
<rect y="104" width="26.40" height="1" fill="#f6f6fb"/>
<rect y="105" width="26.40" height="1" fill="#fcefef"/>
<rect y="106" width="26.40" height="2" fill="#efa7a7"/>
<rect y="108" width="26.40" height="2" fill="#fae5e5"/>
<rect y="110" width="26.40" height="2" fill="#fcf0f0"/>
<rect y="112" width="26.40" height="2" fill="#e57272"/>
<rect y="114" width="26.40" height="1" fill="#f5c9c9"/>
<rect y="115" width="26.40" height="1" fill="#fbe9e9"/>
<rect y="116" width="26.40" height="1" fill="#f3c0c0"/>
<rect y="117" width="26.40" height="1" fill="#f5c8c8"/>
<rect y="118" width="26.40" height="1" fill="#e1e1f2"/>
<rect y="119" width="26.40" height="2" fill="#f5c7c7"/>
<rect y="121" width="26.40" height="1" fill="#b7b7e1"/>
<rect y="122" width="26.40" height="2" fill="#adaddd"/>
<rect y="124" width="26.40" height="1" fill="#f6f6fb"/>
<rect y="125" width="26.40" height="1" fill="#f7d3d3"/>
<rect y="126" width="26.40" height="1" fill="#f7d5d5"/>
<rect y="127" width="26.40" height="1" fill="#f3bdbd"/>
<rect y="128" width="26.40" height="2" fill="#eea3a3"/>
<rect y="130" width="26.40" height="1" fill="#f2b6b6"/>
<rect y="131" width="26.40" height="1" fill="#dd4949"/>
<rect y="132" width="26.40" height="2" fill="#e57373"/>
<rect y="134" width="26.40" height="1" fill="#e46e6e"/>
<rect y="135" width="26.40" height="2" fill="#e57373"/>
<rect y="137" width="26.40" height="1" fill="#e15d5d"/>
<rect y="138" width="26.40" height="1" fill="#e36969"/>
<rect y="139" width="26.40" height="1" fill="#dd4747"/>
<rect y="140" width="26.40" height="1" fill="#dd4545"/>
<rect y="141" width="26.40" height="1" fill="#e98585"/>
<rect y="142" width="26.40" height="1" fill="#e26161"/>
<rect y="143" width="26.40" height="2" fill="#e15c5c"/>
<rect y="145" width="26.40" height="1" fill="#e77b7b"/>
<rect y="146" width="26.40" height="2" fill="#e26464"/>
<rect y="148" width="26.40" height="1" fill="#e05959"/>
<rect y="149" width="26.40" height="2" fill="#e36565"/>
<rect y="151" width="26.40" height="1" fill="#eb9393"/>
<rect y="152" width="26.40" height="2" fill="#e88080"/>
<rect y="154" width="26.40" height="1" fill="#db3b3b"/>
<rect y="155" width="26.40" height="1" fill="#e15b5b"/>
<rect y="156" width="26.40" height="2" fill="#e26363"/>
<rect y="158" width="26.40" height="2" fill="#e46d6d"/>
<rect y="160" width="26.40" height="1" fill="#e67878"/>
<rect y="161" width="26.40" height="1" fill="#e57272"/>
<rect y="162" width="26.40" height="1" fill="#e98787"/>
<rect y="163" width="26.40" height="1" fill="#e88080"/>
<rect y="164" width="26.40" height="1" fill="#e46b6b"/>
<rect y="165" width="26.40" height="2" fill="#e05555"/>
<rect y="167" width="26.40" height="1" fill="#e36666"/>
<rect y="168" width="26.40" height="1" fill="#e57373"/>
<rect y="169" width="26.40" height="1" fill="#e05757"/>
<rect y="170" width="26.40" height="1" fill="#e46f6f"/>
<rect y="171" width="26.40" height="1" fill="#de4c4c"/>
<rect y="172" width="26.40" height="2" fill="#e98989"/>
<rect y="174" width="26.40" height="1" fill="#df5050"/>
<rect y="175" width="26.40" height="1" fill="#e77d7d"/>
<rect y="176" width="26.40" height="1" fill="#e57070"/>
<rect y="177" width="26.40" height="1" fill="#dc3f3f"/>
<rect y="178" width="26.40" height="1" fill="#e67878"/>
<rect y="179" width="26.40" height="1" fill="#e67676"/>
<rect y="180" width="26.40" height="2" fill="#e98686"/>
<rect y="182" width="26.40" height="1" fill="#db3b3b"/>
<rect y="183" width="26.40" height="1" fill="#e98787"/>
<rect y="184" width="26.40" height="1" fill="#db3c3c"/>
<rect y="185" width="26.40" height="1" fill="#dc4242"/>
<rect y="186" width="26.40" height="1" fill="#f1b1b1"/>
<rect y="187" width="26.40" height="2" fill="#e05959"/>
<rect y="189" width="26.40" height="2" fill="#e67676"/>
<rect y="191" width="26.40" height="1" fill="#de4d4d"/>
<rect y="192" width="26.40" height="1" fill="#d92f2f"/>
<rect y="193" width="26.40" height="1" fill="#db3b3b"/>
<rect y="194" width="26.40" height="1" fill="#eb9191"/>
<rect y="195" width="26.40" height="1" fill="#dd4848"/>
<rect y="196" width="26.40" height="1" fill="#f2b7b7"/>
<rect y="197" width="26.40" height="1" fill="#e36767"/>
<rect y="198" width="26.40" height="1" fill="#e36868"/>
<rect y="199" width="26.40" height="2" fill="#de4d4d"/>
<rect y="201" width="26.40" height="2" fill="#e36565"/>
<rect y="203" width="26.40" height="1" fill="#f0adad"/>
<rect y="204" width="26.40" height="2" fill="#e67979"/>
<rect y="206" width="26.40" height="1" fill="#e67878"/>
<rect y="207" width="26.40" height="1" fill="#e05757"/>
<rect y="208" width="26.40" height="1" fill="#e67979"/>
<rect y="209" width="26.40" height="2" fill="#eb9393"/>
<rect y="211" width="26.40" height="1" fill="#e15a5a"/>
<rect y="212" width="26.40" height="2" fill="#e46a6a"/>
<rect y="214" width="26.40" height="2" fill="#de4949"/>
<rect y="216" width="26.40" height="2" fill="#e36666"/>
<rect y="219" width="26.40" height="2" fill="#7c7cc9"/>
<rect y="221" width="26.40" height="1" fill="#a2a2d9"/>
<rect y="222" width="26.40" height="1" fill="#c4c4e7"/>
<rect y="223" width="26.40" height="1" fill="#cacae9"/>
<rect y="224" width="26.40" height="2" fill="#a7a7db"/>
<rect y="226" width="26.40" height="2" fill="#c7c7e8"/>
<rect y="228" width="26.40" height="2" fill="#9090d1"/>
<rect y="230" width="26.40" height="1" fill="#7878c7"/>
<rect y="231" width="26.40" height="2" fill="#a3a3d9"/>
<rect y="233" width="26.40" height="1" fill="#bbbbe3"/>
<rect y="234" width="26.40" height="1" fill="#babae3"/>
<rect y="235" width="26.40" height="1" fill="#8080cb"/>
<rect y="236" width="26.40" height="1" fill="#fdf2f2"/>
<rect y="237" width="26.40" height="1" fill="#b9b9e2"/>
<rect y="238" width="26.40" height="1" fill="#9393d3"/>
<rect y="239" width="26.40" height="1" fill="#8989cf"/>
<rect y="240" width="26.40" height="2" fill="#b8b8e2"/>
<rect y="242" width="26.40" height="1" fill="#d2d2ed"/>
<rect y="243" width="26.40" height="1" fill="#bcbce3"/>
<rect y="244" width="26.40" height="1" fill="#7a7ac8"/>
<rect y="245" width="26.40" height="1" fill="#a4a4d9"/>
<rect y="246" width="26.40" height="2" fill="#c6c6e8"/>
<rect y="248" width="26.40" height="1" fill="#8585cd"/>
<rect y="249" width="26.40" height="1" fill="#ebebf7"/>
<rect y="250" width="26.40" height="1" fill="#d9d9ef"/>
<rect y="251" width="26.40" height="2" fill="#ccccea"/>
<rect y="253" width="26.40" height="1" fill="#9191d2"/>
<rect y="254" width="26.40" height="1" fill="#bbbbe3"/>
<rect y="255" width="26.40" height="1" fill="#b2b2df"/>
<rect y="256" width="26.40" height="2" fill="#a1a1d8"/>
<rect y="258" width="26.40" height="2" fill="#8787ce"/>
<rect y="260" width="26.40" height="1" fill="#a1a1d8"/>
<rect y="261" width="26.40" height="1" fill="#c2c2e6"/>
<rect y="262" width="26.40" height="1" fill="#dadaf0"/>
<rect y="263" width="26.40" height="1" fill="#bcbce4"/>
<rect y="264" width="26.40" height="2" fill="#d8d8ef"/>
<rect y="266" width="26.40" height="1" fill="#8d8dd0"/>
<rect y="267" width="26.40" height="1" fill="#7f7fca"/>
<rect y="268" width="26.40" height="2" fill="#b0b0de"/>
<rect y="270" width="26.40" height="2" fill="#9191d2"/>
<rect y="272" width="26.40" height="1" fill="#b2b2df"/>
<rect y="273" width="26.40" height="2" fill="#9393d3"/>
<rect y="275" width="26.40" height="2" fill="#8b8bcf"/>
<rect y="277" width="26.40" height="1" fill="#8585cd"/>
<rect y="278" width="26.40" height="1" fill="#9c9cd6"/>
<rect y="279" width="26.40" height="1" fill="#ededf8"/>
<rect y="280" width="26.40" height="1" fill="#8787ce"/>
<rect y="281" width="26.40" height="2" fill="#a1a1d8"/>
<rect y="283" width="26.40" height="1" fill="#c1c1e5"/>
<rect y="284" width="26.40" height="1" fill="#9494d3"/>
<rect y="285" width="26.40" height="2" fill="#9090d1"/>
<rect y="287" width="26.40" height="1" fill="#c2c2e6"/>
<rect y="288" width="26.40" height="2" fill="#aaaadc"/>
<rect y="290" width="26.40" height="1" fill="#7c7cc9"/>
<rect y="291" width="26.40" height="2" fill="#b8b8e2"/>
<rect y="293" width="26.40" height="2" fill="#7979c8"/>
<rect y="295" width="26.40" height="2" fill="#6d6dc3"/>
<rect y="297" width="26.40" height="1" fill="#9f9fd8"/>
<rect y="298" width="26.40" height="1" fill="#7474c6"/>
<rect y="299" width="26.40" height="1" fill="#9090d1"/>
<rect y="300" width="26.40" height="1" fill="#9999d5"/>
<rect y="301" width="26.40" height="1" fill="#a9a9dc"/>
<rect y="302" width="26.40" height="2" fill="#bcbce3"/>
<rect y="304" width="26.40" height="1" fill="#a6a6da"/>
<rect y="305" width="26.40" height="2" fill="#7575c6"/>
<rect y="307" width="26.40" height="1" fill="#8f8fd1"/>
<rect y="308" width="26.40" height="1" fill="#9d9dd7"/>
<rect y="309" width="26.40" height="2" fill="#c6c6e8"/>
<rect y="311" width="26.40" height="2" fill="#aeaedd"/>
<rect y="313" width="26.40" height="1" fill="#d8d8ef"/>
<rect y="314" width="26.40" height="1" fill="#a8a8db"/>
<rect y="315" width="26.40" height="1" fill="#8c8cd0"/>
<rect y="316" width="26.40" height="1" fill="#f5f5fb"/>
<rect y="317" width="26.40" height="1" fill="#babae3"/>
<rect y="318" width="26.40" height="1" fill="#a0a0d8"/>
<rect y="319" width="26.40" height="2" fill="#e6e6f5"/>
<rect y="321" width="26.40" height="1" fill="#c4c4e7"/>
<rect y="322" width="26.40" height="2" fill="#8888ce"/>
<rect y="324" width="26.40" height="0.5" fill="#bfbfe5"/>
</g>
<g transform="translate(183.10,0)">
<rect y="42" width="27.10" height="1" fill="#f8f8fc"/>
<rect y="43" width="27.10" height="2" fill="#cfcfeb"/>
<rect y="45" width="27.10" height="1" fill="#e0e0f2"/>
<rect y="46" width="27.10" height="1" fill="#f6f6fb"/>
<rect y="47" width="27.10" height="1" fill="#bfbfe4"/>
<rect y="48" width="27.10" height="2" fill="#dbdbf0"/>
<rect y="50" width="27.10" height="1" fill="#e2e2f3"/>
<rect y="51" width="27.10" height="2" fill="#f4f4fa"/>
<rect y="53" width="27.10" height="1" fill="#e6e6f5"/>
<rect y="54" width="27.10" height="1" fill="#e3e3f3"/>
<rect y="55" width="27.10" height="1" fill="#f1f1f9"/>
<rect y="56" width="27.10" height="1" fill="#e7e7f5"/>
<rect y="57" width="27.10" height="2" fill="#c5c5e7"/>
<rect y="59" width="27.10" height="1" fill="#e8e8f6"/>
<rect y="60" width="27.10" height="1" fill="#ddddf1"/>
<rect y="61" width="27.10" height="1" fill="#f1f1f9"/>
<rect y="62" width="27.10" height="2" fill="#d6d6ee"/>
<rect y="64" width="27.10" height="1" fill="#e0e0f2"/>
<rect y="65" width="27.10" height="2" fill="#f1f1f9"/>
<rect y="67" width="27.10" height="1" fill="#c2c2e6"/>
<rect y="68" width="27.10" height="2" fill="#efeff8"/>
<rect y="70" width="27.10" height="1" fill="#fcfcfe"/>
<rect y="71" width="27.10" height="1" fill="#f3f3fa"/>
<rect y="72" width="27.10" height="2" fill="#fffefe"/>
<rect y="74" width="27.10" height="1" fill="#d4d4ed"/>
<rect y="75" width="27.10" height="2" fill="#f5f5fb"/>
<rect y="77" width="27.10" height="1" fill="#d5d5ee"/>
<rect y="78" width="27.10" height="1" fill="#d6d6ee"/>
<rect y="79" width="27.10" height="1" fill="#d6d6ee"/>
<rect y="80" width="27.10" height="1" fill="#fdf2f2"/>
<rect y="81" width="27.10" height="1" fill="#efaaaa"/>
<rect y="82" width="27.10" height="1" fill="#fae5e5"/>
<rect y="83" width="27.10" height="1" fill="#c0c0e5"/>
<rect y="84" width="27.10" height="2" fill="#c7c7e8"/>
<rect y="86" width="27.10" height="1" fill="#fbe8e8"/>
<rect y="87" width="27.10" height="2" fill="#e3e3f3"/>
<rect y="89" width="27.10" height="2" fill="#eeeef8"/>
<rect y="91" width="27.10" height="2" fill="#f9f9fd"/>
<rect y="93" width="27.10" height="1" fill="#e7e7f5"/>
<rect y="94" width="27.10" height="1" fill="#f3f3fa"/>
<rect y="95" width="27.10" height="1" fill="#c5c5e7"/>
<rect y="96" width="27.10" height="2" fill="#b3b3e0"/>
<rect y="98" width="27.10" height="2" fill="#fcf0f0"/>
<rect y="100" width="27.10" height="2" fill="#eaeaf6"/>
<rect y="102" width="27.10" height="1" fill="#fbebeb"/>
<rect y="103" width="27.10" height="1" fill="#a3a3d9"/>
<rect y="104" width="27.10" height="1" fill="#ddddf1"/>
<rect y="105" width="27.10" height="1" fill="#eaeaf6"/>
<rect y="106" width="27.10" height="2" fill="#f1b1b1"/>
<rect y="108" width="27.10" height="2" fill="#f7f7fc"/>
<rect y="110" width="27.10" height="2" fill="#fbfbfd"/>
<rect y="112" width="27.10" height="2" fill="#fbecec"/>
<rect y="114" width="27.10" height="1" fill="#fbe9e9"/>
<rect y="115" width="27.10" height="1" fill="#cbcbe9"/>
<rect y="116" width="27.10" height="1" fill="#f7f7fc"/>
<rect y="117" width="27.10" height="1" fill="#d6d6ee"/>
<rect y="118" width="27.10" height="1" fill="#afafde"/>
<rect y="119" width="27.10" height="2" fill="#e9e9f6"/>
<rect y="121" width="27.10" height="1" fill="#d4d4ed"/>
<rect y="122" width="27.10" height="2" fill="#bcbce4"/>
<rect y="124" width="27.10" height="1" fill="#fae3e3"/>
<rect y="125" width="27.10" height="1" fill="#c7c7e8"/>
<rect y="126" width="27.10" height="1" fill="#fcecec"/>
<rect y="127" width="27.10" height="1" fill="#ed9e9e"/>
<rect y="128" width="27.10" height="2" fill="#ed9f9f"/>
<rect y="130" width="27.10" height="1" fill="#ea8e8e"/>
<rect y="131" width="27.10" height="1" fill="#de4d4d"/>
<rect y="132" width="27.10" height="2" fill="#ea8b8b"/>
<rect y="134" width="27.10" height="1" fill="#e77a7a"/>
<rect y="135" width="27.10" height="2" fill="#ec9696"/>
<rect y="137" width="27.10" height="1" fill="#eb9191"/>
<rect y="138" width="27.10" height="1" fill="#e26262"/>
<rect y="139" width="27.10" height="1" fill="#e88484"/>
<rect y="140" width="27.10" height="1" fill="#ea8e8e"/>
<rect y="141" width="27.10" height="1" fill="#e67878"/>
<rect y="142" width="27.10" height="1" fill="#e88181"/>
<rect y="143" width="27.10" height="2" fill="#e88383"/>
<rect y="145" width="27.10" height="1" fill="#e15c5c"/>
<rect y="146" width="27.10" height="2" fill="#e57575"/>
<rect y="148" width="27.10" height="1" fill="#e46e6e"/>
<rect y="149" width="27.10" height="2" fill="#e15b5b"/>
<rect y="151" width="27.10" height="1" fill="#e57272"/>
<rect y="152" width="27.10" height="2" fill="#f0afaf"/>
<rect y="154" width="27.10" height="1" fill="#df5454"/>
<rect y="155" width="27.10" height="1" fill="#f0adad"/>
<rect y="156" width="27.10" height="2" fill="#e67a7a"/>
<rect y="158" width="27.10" height="2" fill="#e77f7f"/>
<rect y="160" width="27.10" height="1" fill="#e88484"/>
<rect y="161" width="27.10" height="1" fill="#e46c6c"/>
<rect y="162" width="27.10" height="1" fill="#ea8e8e"/>
<rect y="163" width="27.10" height="1" fill="#eb9494"/>
<rect y="164" width="27.10" height="1" fill="#e46d6d"/>
<rect y="165" width="27.10" height="2" fill="#e57070"/>
<rect y="167" width="27.10" height="1" fill="#ec9999"/>
<rect y="168" width="27.10" height="1" fill="#ec9a9a"/>
<rect y="169" width="27.10" height="1" fill="#e57070"/>
<rect y="170" width="27.10" height="1" fill="#e26060"/>
<rect y="171" width="27.10" height="1" fill="#df5353"/>
<rect y="172" width="27.10" height="2" fill="#eb9494"/>
<rect y="174" width="27.10" height="1" fill="#e05555"/>
<rect y="175" width="27.10" height="1" fill="#e46f6f"/>
<rect y="176" width="27.10" height="1" fill="#ec9898"/>
<rect y="177" width="27.10" height="1" fill="#e77b7b"/>
<rect y="178" width="27.10" height="1" fill="#e26060"/>
<rect y="179" width="27.10" height="1" fill="#f0acac"/>
<rect y="180" width="27.10" height="2" fill="#f1b1b1"/>
<rect y="182" width="27.10" height="1" fill="#e36868"/>
<rect y="183" width="27.10" height="1" fill="#ea8c8c"/>
<rect y="184" width="27.10" height="1" fill="#e36868"/>
<rect y="185" width="27.10" height="1" fill="#dc3f3f"/>
<rect y="186" width="27.10" height="1" fill="#eb9494"/>
<rect y="187" width="27.10" height="2" fill="#e98989"/>
<rect y="189" width="27.10" height="2" fill="#e26161"/>
<rect y="191" width="27.10" height="1" fill="#e26363"/>
<rect y="192" width="27.10" height="1" fill="#df5050"/>
<rect y="193" width="27.10" height="1" fill="#e15b5b"/>
<rect y="194" width="27.10" height="1" fill="#e88585"/>
<rect y="195" width="27.10" height="1" fill="#e36565"/>
<rect y="196" width="27.10" height="1" fill="#f2b7b7"/>
<rect y="197" width="27.10" height="1" fill="#eea2a2"/>
<rect y="198" width="27.10" height="1" fill="#e57070"/>
<rect y="199" width="27.10" height="2" fill="#ea8f8f"/>
<rect y="201" width="27.10" height="2" fill="#e05656"/>
<rect y="203" width="27.10" height="1" fill="#ea8b8b"/>
<rect y="204" width="27.10" height="2" fill="#e77b7b"/>
<rect y="206" width="27.10" height="1" fill="#ea9090"/>
<rect y="207" width="27.10" height="1" fill="#eb9292"/>
<rect y="208" width="27.10" height="1" fill="#e98a8a"/>
<rect y="209" width="27.10" height="2" fill="#eea3a3"/>
<rect y="211" width="27.10" height="1" fill="#e67979"/>
<rect y="212" width="27.10" height="2" fill="#e46c6c"/>
<rect y="214" width="27.10" height="2" fill="#de4a4a"/>
<rect y="216" width="27.10" height="2" fill="#e67777"/>
<rect y="219" width="27.10" height="2" fill="#6666c0"/>
<rect y="221" width="27.10" height="1" fill="#9292d2"/>
<rect y="222" width="27.10" height="1" fill="#7e7eca"/>
<rect y="223" width="27.10" height="1" fill="#6262be"/>
<rect y="224" width="27.10" height="2" fill="#7575c6"/>
<rect y="226" width="27.10" height="2" fill="#7878c7"/>
<rect y="228" width="27.10" height="2" fill="#6e6ec3"/>
<rect y="230" width="27.10" height="1" fill="#6d6dc3"/>
<rect y="231" width="27.10" height="2" fill="#8f8fd1"/>
<rect y="233" width="27.10" height="1" fill="#8e8ed0"/>
<rect y="234" width="27.10" height="1" fill="#6868c1"/>
<rect y="235" width="27.10" height="1" fill="#6363bf"/>
<rect y="236" width="27.10" height="1" fill="#7e7eca"/>
<rect y="237" width="27.10" height="1" fill="#7272c5"/>
<rect y="238" width="27.10" height="1" fill="#8181cb"/>
<rect y="239" width="27.10" height="1" fill="#7373c5"/>
<rect y="240" width="27.10" height="2" fill="#7a7ac8"/>
<rect y="242" width="27.10" height="1" fill="#7f7fca"/>
<rect y="243" width="27.10" height="1" fill="#5353b8"/>
<rect y="244" width="27.10" height="1" fill="#6b6bc2"/>
<rect y="245" width="27.10" height="1" fill="#7f7fca"/>
<rect y="246" width="27.10" height="2" fill="#7373c5"/>
<rect y="248" width="27.10" height="1" fill="#5252b8"/>
<rect y="249" width="27.10" height="1" fill="#8484cc"/>
<rect y="250" width="27.10" height="1" fill="#6161be"/>
<rect y="251" width="27.10" height="2" fill="#7171c4"/>
<rect y="253" width="27.10" height="1" fill="#6464bf"/>
<rect y="254" width="27.10" height="1" fill="#8b8bcf"/>
<rect y="255" width="27.10" height="1" fill="#6f6fc4"/>
<rect y="256" width="27.10" height="2" fill="#6f6fc4"/>
<rect y="258" width="27.10" height="2" fill="#5858ba"/>
<rect y="260" width="27.10" height="1" fill="#7272c5"/>
<rect y="261" width="27.10" height="1" fill="#7a7ac8"/>
<rect y="262" width="27.10" height="1" fill="#8b8bcf"/>
<rect y="263" width="27.10" height="1" fill="#7373c5"/>
<rect y="264" width="27.10" height="2" fill="#6b6bc2"/>
<rect y="266" width="27.10" height="1" fill="#6e6ec3"/>
<rect y="267" width="27.10" height="1" fill="#6f6fc4"/>
<rect y="268" width="27.10" height="2" fill="#5656b9"/>
<rect y="270" width="27.10" height="2" fill="#5656b9"/>
<rect y="272" width="27.10" height="1" fill="#6b6bc2"/>
<rect y="273" width="27.10" height="2" fill="#7373c5"/>
<rect y="275" width="27.10" height="2" fill="#5d5dbc"/>
<rect y="277" width="27.10" height="1" fill="#6b6bc2"/>
<rect y="278" width="27.10" height="1" fill="#6d6dc3"/>
<rect y="279" width="27.10" height="1" fill="#8181cb"/>
<rect y="280" width="27.10" height="1" fill="#5858ba"/>
<rect y="281" width="27.10" height="2" fill="#6b6bc2"/>
<rect y="283" width="27.10" height="1" fill="#7777c7"/>
<rect y="284" width="27.10" height="1" fill="#6666c0"/>
<rect y="285" width="27.10" height="2" fill="#5c5cbc"/>
<rect y="287" width="27.10" height="1" fill="#9393d2"/>
<rect y="288" width="27.10" height="2" fill="#9393d3"/>
<rect y="290" width="27.10" height="1" fill="#7777c7"/>
<rect y="291" width="27.10" height="2" fill="#7575c6"/>
<rect y="293" width="27.10" height="2" fill="#6060be"/>
<rect y="295" width="27.10" height="2" fill="#4a4ab5"/>
<rect y="297" width="27.10" height="1" fill="#8383cc"/>
<rect y="298" width="27.10" height="1" fill="#5252b8"/>
<rect y="299" width="27.10" height="1" fill="#5d5dbc"/>
<rect y="300" width="27.10" height="1" fill="#7777c7"/>
<rect y="301" width="27.10" height="1" fill="#8c8cd0"/>
<rect y="302" width="27.10" height="2" fill="#4d4db6"/>
<rect y="304" width="27.10" height="1" fill="#8b8bcf"/>
<rect y="305" width="27.10" height="2" fill="#6565c0"/>
<rect y="307" width="27.10" height="1" fill="#6565c0"/>
<rect y="308" width="27.10" height="1" fill="#5353b8"/>
<rect y="309" width="27.10" height="2" fill="#7e7eca"/>
<rect y="311" width="27.10" height="2" fill="#7a7ac8"/>
<rect y="313" width="27.10" height="1" fill="#a6a6da"/>
<rect y="314" width="27.10" height="1" fill="#6767c0"/>
<rect y="315" width="27.10" height="1" fill="#6464bf"/>
<rect y="316" width="27.10" height="1" fill="#7777c7"/>
<rect y="317" width="27.10" height="1" fill="#7070c4"/>
<rect y="318" width="27.10" height="1" fill="#8888ce"/>
<rect y="319" width="27.10" height="2" fill="#5959bb"/>
<rect y="321" width="27.10" height="1" fill="#7272c5"/>
<rect y="322" width="27.10" height="2" fill="#6969c1"/>
<rect y="324" width="27.10" height="0.5" fill="#7474c6"/>
</g>
<g transform="translate(209.90,0)">
<rect y="42" width="26.30" height="1" fill="#040498"/>
<rect y="43" width="26.30" height="2" fill="#050598"/>
<rect y="45" width="26.30" height="1" fill="#040498"/>
<rect y="46" width="26.30" height="1" fill="#030397"/>
<rect y="47" width="26.30" height="1" fill="#0c0c9b"/>
<rect y="48" width="26.30" height="2" fill="#070799"/>
<rect y="50" width="26.30" height="1" fill="#09099a"/>
<rect y="51" width="26.30" height="2" fill="#09099a"/>
<rect y="53" width="26.30" height="1" fill="#030397"/>
<rect y="54" width="26.30" height="1" fill="#050598"/>
<rect y="55" width="26.30" height="1" fill="#050598"/>
<rect y="56" width="26.30" height="1" fill="#030397"/>
<rect y="57" width="26.30" height="2" fill="#050598"/>
<rect y="59" width="26.30" height="1" fill="#5d5dbc"/>
<rect y="60" width="26.30" height="1" fill="#7b7bc9"/>
<rect y="61" width="26.30" height="1" fill="#4f4fb6"/>
<rect y="62" width="26.30" height="2" fill="#5858ba"/>
<rect y="64" width="26.30" height="1" fill="#7a7ac8"/>
<rect y="65" width="26.30" height="2" fill="#3d3daf"/>
<rect y="67" width="26.30" height="1" fill="#3c3caf"/>
<rect y="68" width="26.30" height="2" fill="#3232ab"/>
<rect y="70" width="26.30" height="1" fill="#4848b4"/>
<rect y="71" width="26.30" height="1" fill="#4343b2"/>
<rect y="72" width="26.30" height="2" fill="#ea8f8f"/>
<rect y="74" width="26.30" height="1" fill="#e05555"/>
<rect y="75" width="26.30" height="2" fill="#e46d6d"/>
<rect y="77" width="26.30" height="1" fill="#fae6e6"/>
<rect y="78" width="26.30" height="1" fill="#ec9898"/>
<rect y="79" width="26.30" height="1" fill="#e67979"/>
<rect y="80" width="26.30" height="1" fill="#e67777"/>
<rect y="81" width="26.30" height="1" fill="#ea8b8b"/>
<rect y="82" width="26.30" height="1" fill="#f6cdcd"/>
<rect y="83" width="26.30" height="1" fill="#e57171"/>
<rect y="84" width="26.30" height="2" fill="#ea8e8e"/>
<rect y="86" width="26.30" height="1" fill="#f1b5b5"/>
<rect y="87" width="26.30" height="2" fill="#f1b2b2"/>
<rect y="89" width="26.30" height="2" fill="#efa8a8"/>
<rect y="91" width="26.30" height="2" fill="#e88585"/>
<rect y="93" width="26.30" height="1" fill="#fef9f9"/>
<rect y="94" width="26.30" height="1" fill="#de4d4d"/>
<rect y="95" width="26.30" height="1" fill="#e15d5d"/>
<rect y="96" width="26.30" height="2" fill="#e88383"/>
<rect y="98" width="26.30" height="2" fill="#d72727"/>
<rect y="100" width="26.30" height="2" fill="#efabab"/>
<rect y="102" width="26.30" height="1" fill="#e57171"/>
<rect y="103" width="26.30" height="1" fill="#db3c3c"/>
<rect y="104" width="26.30" height="1" fill="#e77d7d"/>
<rect y="105" width="26.30" height="1" fill="#eb9090"/>
<rect y="106" width="26.30" height="2" fill="#e67575"/>
<rect y="108" width="26.30" height="2" fill="#eb9292"/>
<rect y="110" width="26.30" height="2" fill="#de4b4b"/>
<rect y="112" width="26.30" height="2" fill="#efa9a9"/>
<rect y="114" width="26.30" height="1" fill="#db3e3e"/>
<rect y="115" width="26.30" height="1" fill="#dd4444"/>
<rect y="116" width="26.30" height="1" fill="#e36767"/>
<rect y="117" width="26.30" height="1" fill="#e26262"/>
<rect y="118" width="26.30" height="1" fill="#e98787"/>
<rect y="119" width="26.30" height="2" fill="#d61e1e"/>
<rect y="121" width="26.30" height="1" fill="#e36868"/>
<rect y="122" width="26.30" height="2" fill="#f1b1b1"/>
<rect y="124" width="26.30" height="1" fill="#e98686"/>
<rect y="125" width="26.30" height="1" fill="#ec9a9a"/>
<rect y="126" width="26.30" height="1" fill="#d93030"/>
<rect y="127" width="26.30" height="1" fill="#d61f1f"/>
<rect y="128" width="26.30" height="2" fill="#e25f5f"/>
<rect y="130" width="26.30" height="1" fill="#e46d6d"/>
<rect y="131" width="26.30" height="1" fill="#e15b5b"/>
<rect y="132" width="26.30" height="2" fill="#e36868"/>
<rect y="134" width="26.30" height="1" fill="#e67878"/>
<rect y="135" width="26.30" height="2" fill="#e46a6a"/>
<rect y="137" width="26.30" height="1" fill="#da3838"/>
<rect y="138" width="26.30" height="1" fill="#e57373"/>
<rect y="139" width="26.30" height="1" fill="#dd4545"/>
<rect y="140" width="26.30" height="1" fill="#e88080"/>
<rect y="141" width="26.30" height="1" fill="#de4e4e"/>
<rect y="142" width="26.30" height="1" fill="#e67676"/>
<rect y="143" width="26.30" height="2" fill="#e98a8a"/>
<rect y="145" width="26.30" height="1" fill="#df5353"/>
<rect y="146" width="26.30" height="2" fill="#e77b7b"/>
<rect y="148" width="26.30" height="1" fill="#de4f4f"/>
<rect y="149" width="26.30" height="2" fill="#e77b7b"/>
<rect y="151" width="26.30" height="1" fill="#e88383"/>
<rect y="152" width="26.30" height="2" fill="#eb9393"/>
<rect y="154" width="26.30" height="1" fill="#dd4545"/>
<rect y="155" width="26.30" height="1" fill="#e67878"/>
<rect y="156" width="26.30" height="2" fill="#f2baba"/>
<rect y="158" width="26.30" height="2" fill="#ec9898"/>
<rect y="160" width="26.30" height="1" fill="#f2b9b9"/>
<rect y="161" width="26.30" height="1" fill="#ea8e8e"/>
<rect y="162" width="26.30" height="1" fill="#eea4a4"/>
<rect y="163" width="26.30" height="1" fill="#e36868"/>
<rect y="164" width="26.30" height="1" fill="#d93131"/>
<rect y="165" width="26.30" height="2" fill="#e05555"/>
<rect y="167" width="26.30" height="1" fill="#e15b5b"/>
<rect y="168" width="26.30" height="1" fill="#e88181"/>
<rect y="169" width="26.30" height="1" fill="#f4c3c3"/>
<rect y="170" width="26.30" height="1" fill="#e57272"/>
<rect y="171" width="26.30" height="1" fill="#e88080"/>
<rect y="172" width="26.30" height="2" fill="#e98989"/>
<rect y="174" width="26.30" height="1" fill="#d00000"/>
<rect y="175" width="26.30" height="1" fill="#d72828"/>
<rect y="176" width="26.30" height="1" fill="#dc4040"/>
<rect y="177" width="26.30" height="1" fill="#e26060"/>
<rect y="178" width="26.30" height="1" fill="#d62222"/>
<rect y="179" width="26.30" height="1" fill="#e36868"/>
<rect y="180" width="26.30" height="2" fill="#e57070"/>
<rect y="182" width="26.30" height="1" fill="#d41313"/>
<rect y="183" width="26.30" height="1" fill="#e77f7f"/>
<rect y="184" width="26.30" height="1" fill="#e88080"/>
<rect y="185" width="26.30" height="1" fill="#e15e5e"/>
<rect y="186" width="26.30" height="1" fill="#e98888"/>
<rect y="187" width="26.30" height="2" fill="#df5151"/>
<rect y="189" width="26.30" height="2" fill="#d00000"/>
<rect y="191" width="26.30" height="1" fill="#df5353"/>
<rect y="192" width="26.30" height="1" fill="#e36666"/>
<rect y="193" width="26.30" height="1" fill="#d51d1d"/>
<rect y="194" width="26.30" height="1" fill="#e36565"/>
<rect y="195" width="26.30" height="1" fill="#e26363"/>
<rect y="196" width="26.30" height="1" fill="#de4b4b"/>
<rect y="197" width="26.30" height="1" fill="#e46f6f"/>
<rect y="198" width="26.30" height="1" fill="#e57373"/>
<rect y="199" width="26.30" height="2" fill="#e67676"/>
<rect y="201" width="26.30" height="2" fill="#e26161"/>
<rect y="203" width="26.30" height="1" fill="#e26363"/>
<rect y="204" width="26.30" height="2" fill="#dd4848"/>
<rect y="206" width="26.30" height="1" fill="#e46c6c"/>
<rect y="207" width="26.30" height="1" fill="#eb9595"/>
<rect y="208" width="26.30" height="1" fill="#e67676"/>
<rect y="209" width="26.30" height="2" fill="#e77f7f"/>
<rect y="211" width="26.30" height="1" fill="#de4e4e"/>
<rect y="212" width="26.30" height="2" fill="#e36565"/>
<rect y="214" width="26.30" height="2" fill="#e15c5c"/>
<rect y="216" width="26.30" height="2" fill="#e57373"/>
<rect y="219" width="26.30" height="2" fill="#babae3"/>
<rect y="221" width="26.30" height="1" fill="#c2c2e6"/>
<rect y="222" width="26.30" height="1" fill="#bdbde4"/>
<rect y="223" width="26.30" height="1" fill="#cfcfeb"/>
<rect y="224" width="26.30" height="2" fill="#b8b8e2"/>
<rect y="226" width="26.30" height="2" fill="#9595d3"/>
<rect y="228" width="26.30" height="2" fill="#e8e8f6"/>
<rect y="230" width="26.30" height="1" fill="#b2b2df"/>
<rect y="231" width="26.30" height="2" fill="#d4d4ed"/>
<rect y="233" width="26.30" height="1" fill="#cbcbea"/>
<rect y="234" width="26.30" height="1" fill="#dfdff2"/>
<rect y="235" width="26.30" height="1" fill="#b5b5e0"/>
<rect y="236" width="26.30" height="1" fill="#eaeaf6"/>
<rect y="237" width="26.30" height="1" fill="#b1b1df"/>
<rect y="238" width="26.30" height="1" fill="#a7a7db"/>
<rect y="239" width="26.30" height="1" fill="#b6b6e1"/>
<rect y="240" width="26.30" height="2" fill="#e7e7f5"/>
<rect y="242" width="26.30" height="1" fill="#9494d3"/>
<rect y="243" width="26.30" height="1" fill="#a5a5da"/>
<rect y="244" width="26.30" height="1" fill="#d5d5ee"/>
<rect y="245" width="26.30" height="1" fill="#ddddf1"/>
<rect y="246" width="26.30" height="2" fill="#adaddd"/>
<rect y="248" width="26.30" height="1" fill="#9f9fd7"/>
<rect y="249" width="26.30" height="1" fill="#cbcbea"/>
<rect y="250" width="26.30" height="1" fill="#b6b6e1"/>
<rect y="251" width="26.30" height="2" fill="#d2d2ec"/>
<rect y="253" width="26.30" height="1" fill="#cdcdeb"/>
<rect y="254" width="26.30" height="1" fill="#eaeaf6"/>
<rect y="255" width="26.30" height="1" fill="#e7e7f5"/>
<rect y="256" width="26.30" height="2" fill="#d2d2ed"/>
<rect y="258" width="26.30" height="2" fill="#c3c3e6"/>
<rect y="260" width="26.30" height="1" fill="#aaaadc"/>
<rect y="261" width="26.30" height="1" fill="#bfbfe5"/>
<rect y="262" width="26.30" height="1" fill="#d0d0ec"/>
<rect y="263" width="26.30" height="1" fill="#c2c2e6"/>
<rect y="264" width="26.30" height="2" fill="#d6d6ee"/>
<rect y="266" width="26.30" height="1" fill="#c5c5e7"/>
<rect y="267" width="26.30" height="1" fill="#d6d6ee"/>
<rect y="268" width="26.30" height="2" fill="#c4c4e7"/>
<rect y="270" width="26.30" height="2" fill="#8d8dd0"/>
<rect y="272" width="26.30" height="1" fill="#e9e9f6"/>
<rect y="273" width="26.30" height="2" fill="#c6c6e8"/>
<rect y="275" width="26.30" height="2" fill="#8f8fd1"/>
<rect y="277" width="26.30" height="1" fill="#a1a1d8"/>
<rect y="278" width="26.30" height="1" fill="#cdcdeb"/>
<rect y="279" width="26.30" height="1" fill="#dfdff2"/>
<rect y="280" width="26.30" height="1" fill="#ceceeb"/>
<rect y="281" width="26.30" height="2" fill="#b6b6e1"/>
<rect y="283" width="26.30" height="1" fill="#a2a2d9"/>
<rect y="284" width="26.30" height="1" fill="#b2b2df"/>
<rect y="285" width="26.30" height="2" fill="#cacae9"/>
<rect y="287" width="26.30" height="1" fill="#e4e4f4"/>
<rect y="288" width="26.30" height="2" fill="#d1d1ec"/>
<rect y="290" width="26.30" height="1" fill="#d5d5ee"/>
<rect y="291" width="26.30" height="2" fill="#b5b5e1"/>
<rect y="293" width="26.30" height="2" fill="#c2c2e6"/>
<rect y="295" width="26.30" height="2" fill="#c4c4e7"/>
<rect y="297" width="26.30" height="1" fill="#b1b1df"/>
<rect y="298" width="26.30" height="1" fill="#bbbbe3"/>
<rect y="299" width="26.30" height="1" fill="#d5d5ee"/>
<rect y="300" width="26.30" height="1" fill="#e5e5f4"/>
<rect y="301" width="26.30" height="1" fill="#cacae9"/>
<rect y="302" width="26.30" height="2" fill="#9898d4"/>
<rect y="304" width="26.30" height="1" fill="#a1a1d8"/>
<rect y="305" width="26.30" height="2" fill="#bebee4"/>
<rect y="307" width="26.30" height="1" fill="#cbcbe9"/>
<rect y="308" width="26.30" height="1" fill="#a2a2d9"/>
<rect y="309" width="26.30" height="2" fill="#dadaf0"/>
<rect y="311" width="26.30" height="2" fill="#b9b9e2"/>
<rect y="313" width="26.30" height="1" fill="#eeeef8"/>
<rect y="314" width="26.30" height="1" fill="#8c8cd0"/>
<rect y="315" width="26.30" height="1" fill="#e7e7f5"/>
<rect y="316" width="26.30" height="1" fill="#f0f0f9"/>
<rect y="317" width="26.30" height="1" fill="#a6a6db"/>
<rect y="318" width="26.30" height="1" fill="#fefbfb"/>
<rect y="319" width="26.30" height="2" fill="#eeeef8"/>
<rect y="321" width="26.30" height="1" fill="#ccccea"/>
<rect y="322" width="26.30" height="2" fill="#dbdbf0"/>
<rect y="324" width="26.30" height="0.5" fill="#bbbbe3"/>
</g>
<g transform="translate(235.90,0)">
<rect y="42" width="24.90" height="1" fill="#4a4ab5"/>
<rect y="43" width="24.90" height="2" fill="#6464bf"/>
<rect y="45" width="24.90" height="1" fill="#4444b2"/>
<rect y="46" width="24.90" height="1" fill="#2020a3"/>
<rect y="47" width="24.90" height="1" fill="#1e1ea2"/>
<rect y="48" width="24.90" height="2" fill="#6161be"/>
<rect y="50" width="24.90" height="1" fill="#3636ac"/>
<rect y="51" width="24.90" height="2" fill="#5858ba"/>
<rect y="53" width="24.90" height="1" fill="#5454b9"/>
<rect y="54" width="24.90" height="1" fill="#6d6dc3"/>
<rect y="55" width="24.90" height="1" fill="#5a5abb"/>
<rect y="56" width="24.90" height="1" fill="#7070c4"/>
<rect y="57" width="24.90" height="2" fill="#1717a0"/>
<rect y="59" width="24.90" height="1" fill="#2727a6"/>
<rect y="60" width="24.90" height="1" fill="#2929a7"/>
<rect y="61" width="24.90" height="1" fill="#6464bf"/>
<rect y="62" width="24.90" height="2" fill="#3737ad"/>
<rect y="64" width="24.90" height="1" fill="#4343b1"/>
<rect y="65" width="24.90" height="2" fill="#5e5ebd"/>
<rect y="67" width="24.90" height="1" fill="#5e5ebd"/>
<rect y="68" width="24.90" height="2" fill="#1f1fa3"/>
<rect y="70" width="24.90" height="1" fill="#3838ad"/>
<rect y="71" width="24.90" height="1" fill="#3030aa"/>
<rect y="72" width="24.90" height="2" fill="#d61f1f"/>
<rect y="74" width="24.90" height="1" fill="#df5050"/>
<rect y="75" width="24.90" height="2" fill="#e57373"/>
<rect y="77" width="24.90" height="1" fill="#f3bbbb"/>
<rect y="78" width="24.90" height="1" fill="#e57474"/>
<rect y="79" width="24.90" height="1" fill="#e36767"/>
<rect y="80" width="24.90" height="1" fill="#e88484"/>
<rect y="81" width="24.90" height="1" fill="#e88181"/>
<rect y="82" width="24.90" height="1" fill="#f8d8d8"/>
<rect y="83" width="24.90" height="1" fill="#e98686"/>
<rect y="84" width="24.90" height="2" fill="#e77e7e"/>
<rect y="86" width="24.90" height="1" fill="#e77f7f"/>
<rect y="87" width="24.90" height="2" fill="#df5353"/>
<rect y="89" width="24.90" height="2" fill="#e26161"/>
<rect y="91" width="24.90" height="2" fill="#e77a7a"/>
<rect y="93" width="24.90" height="1" fill="#dd4747"/>
<rect y="94" width="24.90" height="1" fill="#e98888"/>
<rect y="95" width="24.90" height="1" fill="#e26060"/>
<rect y="96" width="24.90" height="2" fill="#e46d6d"/>
<rect y="98" width="24.90" height="2" fill="#d72828"/>
<rect y="100" width="24.90" height="2" fill="#f9e1e1"/>
<rect y="102" width="24.90" height="1" fill="#efa9a9"/>
<rect y="103" width="24.90" height="1" fill="#d00000"/>
<rect y="104" width="24.90" height="1" fill="#dd4949"/>
<rect y="105" width="24.90" height="1" fill="#e36666"/>
<rect y="106" width="24.90" height="2" fill="#ec9999"/>
<rect y="108" width="24.90" height="2" fill="#e57272"/>
<rect y="110" width="24.90" height="2" fill="#e15f5f"/>
<rect y="112" width="24.90" height="2" fill="#f2b7b7"/>
<rect y="114" width="24.90" height="1" fill="#eb9595"/>
<rect y="115" width="24.90" height="1" fill="#d72828"/>
<rect y="116" width="24.90" height="1" fill="#e26262"/>
<rect y="117" width="24.90" height="1" fill="#e15e5e"/>
<rect y="118" width="24.90" height="1" fill="#eea5a5"/>
<rect y="119" width="24.90" height="2" fill="#d00000"/>
<rect y="121" width="24.90" height="1" fill="#e05656"/>
<rect y="122" width="24.90" height="2" fill="#fefafa"/>
<rect y="124" width="24.90" height="1" fill="#e26464"/>
<rect y="125" width="24.90" height="1" fill="#e36969"/>
<rect y="126" width="24.90" height="1" fill="#d93030"/>
<rect y="127" width="24.90" height="1" fill="#e15f5f"/>
<rect y="128" width="24.90" height="2" fill="#eea2a2"/>
<rect y="130" width="24.90" height="1" fill="#e15c5c"/>
<rect y="131" width="24.90" height="1" fill="#f9dede"/>
<rect y="132" width="24.90" height="2" fill="#e98787"/>
<rect y="134" width="24.90" height="1" fill="#efa8a8"/>
<rect y="135" width="24.90" height="2" fill="#eea3a3"/>
<rect y="137" width="24.90" height="1" fill="#e88282"/>
<rect y="138" width="24.90" height="1" fill="#ea8e8e"/>
<rect y="139" width="24.90" height="1" fill="#ea8f8f"/>
<rect y="140" width="24.90" height="1" fill="#eb9393"/>
<rect y="141" width="24.90" height="1" fill="#f0acac"/>
<rect y="142" width="24.90" height="1" fill="#e88484"/>
<rect y="143" width="24.90" height="2" fill="#f2b9b9"/>
<rect y="145" width="24.90" height="1" fill="#e46e6e"/>
<rect y="146" width="24.90" height="2" fill="#efa7a7"/>
<rect y="148" width="24.90" height="1" fill="#e15c5c"/>
<rect y="149" width="24.90" height="2" fill="#e26363"/>
<rect y="151" width="24.90" height="1" fill="#e88484"/>
<rect y="152" width="24.90" height="2" fill="#fbe9e9"/>
<rect y="154" width="24.90" height="1" fill="#e98585"/>
<rect y="155" width="24.90" height="1" fill="#f3bdbd"/>
<rect y="156" width="24.90" height="2" fill="#fbe8e8"/>
<rect y="158" width="24.90" height="2" fill="#ed9c9c"/>
<rect y="160" width="24.90" height="1" fill="#e57171"/>
<rect y="161" width="24.90" height="1" fill="#f1b1b1"/>
<rect y="162" width="24.90" height="1" fill="#f6cdcd"/>
<rect y="163" width="24.90" height="1" fill="#e77f7f"/>
<rect y="164" width="24.90" height="1" fill="#e98989"/>
<rect y="165" width="24.90" height="2" fill="#ec9696"/>
<rect y="167" width="24.90" height="1" fill="#f2baba"/>
<rect y="168" width="24.90" height="1" fill="#e98787"/>
<rect y="169" width="24.90" height="1" fill="#f8d7d7"/>
<rect y="170" width="24.90" height="1" fill="#f0aeae"/>
<rect y="171" width="24.90" height="1" fill="#f7d1d1"/>
<rect y="172" width="24.90" height="2" fill="#ea8e8e"/>
<rect y="174" width="24.90" height="1" fill="#dc4141"/>
<rect y="175" width="24.90" height="1" fill="#e05555"/>
<rect y="176" width="24.90" height="1" fill="#f2baba"/>
<rect y="177" width="24.90" height="1" fill="#eb9595"/>
<rect y="178" width="24.90" height="1" fill="#f1b5b5"/>
<rect y="179" width="24.90" height="1" fill="#e77f7f"/>
<rect y="180" width="24.90" height="2" fill="#f5c8c8"/>
<rect y="182" width="24.90" height="1" fill="#e36a6a"/>
<rect y="183" width="24.90" height="1" fill="#fdf6f6"/>
<rect y="184" width="24.90" height="1" fill="#ea8e8e"/>
<rect y="185" width="24.90" height="1" fill="#ec9898"/>
<rect y="186" width="24.90" height="1" fill="#f3bfbf"/>
<rect y="187" width="24.90" height="2" fill="#f6cece"/>
<rect y="189" width="24.90" height="2" fill="#e77a7a"/>
<rect y="191" width="24.90" height="1" fill="#eea0a0"/>
<rect y="192" width="24.90" height="1" fill="#f0b0b0"/>
<rect y="193" width="24.90" height="1" fill="#ea8b8b"/>
<rect y="194" width="24.90" height="1" fill="#fdf2f2"/>
<rect y="195" width="24.90" height="1" fill="#f3bfbf"/>
<rect y="196" width="24.90" height="1" fill="#e98787"/>
<rect y="197" width="24.90" height="1" fill="#e77c7c"/>
<rect y="198" width="24.90" height="1" fill="#fbebeb"/>
<rect y="199" width="24.90" height="2" fill="#fae6e6"/>
<rect y="201" width="24.90" height="2" fill="#ec9999"/>
<rect y="203" width="24.90" height="1" fill="#ec9696"/>
<rect y="204" width="24.90" height="2" fill="#ec9595"/>
<rect y="206" width="24.90" height="1" fill="#e88282"/>
<rect y="207" width="24.90" height="1" fill="#eb9292"/>
<rect y="208" width="24.90" height="1" fill="#de4b4b"/>
<rect y="209" width="24.90" height="2" fill="#e15e5e"/>
<rect y="211" width="24.90" height="1" fill="#e88383"/>
<rect y="212" width="24.90" height="2" fill="#e67878"/>
<rect y="214" width="24.90" height="2" fill="#e88080"/>
<rect y="216" width="24.90" height="2" fill="#f9dddd"/>
<rect y="219" width="24.90" height="2" fill="#6363bf"/>
<rect y="221" width="24.90" height="1" fill="#8080cb"/>
<rect y="222" width="24.90" height="1" fill="#8484cc"/>
<rect y="223" width="24.90" height="1" fill="#8888ce"/>
<rect y="224" width="24.90" height="2" fill="#8686cd"/>
<rect y="226" width="24.90" height="2" fill="#5757ba"/>
<rect y="228" width="24.90" height="2" fill="#5555b9"/>
<rect y="230" width="24.90" height="1" fill="#8484cc"/>
<rect y="231" width="24.90" height="2" fill="#7d7dca"/>
<rect y="233" width="24.90" height="1" fill="#7979c8"/>
<rect y="234" width="24.90" height="1" fill="#9393d3"/>
<rect y="235" width="24.90" height="1" fill="#7373c5"/>
<rect y="236" width="24.90" height="1" fill="#7d7dc9"/>
<rect y="237" width="24.90" height="1" fill="#7b7bc9"/>
<rect y="238" width="24.90" height="1" fill="#6060be"/>
<rect y="239" width="24.90" height="1" fill="#8d8dd0"/>
<rect y="240" width="24.90" height="2" fill="#7b7bc8"/>
<rect y="242" width="24.90" height="1" fill="#7373c5"/>
<rect y="243" width="24.90" height="1" fill="#7b7bc9"/>
<rect y="244" width="24.90" height="1" fill="#7575c6"/>
<rect y="245" width="24.90" height="1" fill="#6969c1"/>
<rect y="246" width="24.90" height="2" fill="#5f5fbd"/>
<rect y="248" width="24.90" height="1" fill="#6363bf"/>
<rect y="249" width="24.90" height="1" fill="#a2a2d9"/>
<rect y="250" width="24.90" height="1" fill="#6868c1"/>
<rect y="251" width="24.90" height="2" fill="#7070c4"/>
<rect y="253" width="24.90" height="1" fill="#7777c7"/>
<rect y="254" width="24.90" height="1" fill="#8383cc"/>
<rect y="255" width="24.90" height="1" fill="#5c5cbc"/>
<rect y="256" width="24.90" height="2" fill="#9a9ad6"/>
<rect y="258" width="24.90" height="2" fill="#7f7fca"/>
<rect y="260" width="24.90" height="1" fill="#5151b7"/>
<rect y="261" width="24.90" height="1" fill="#5e5ebd"/>
<rect y="262" width="24.90" height="1" fill="#8a8acf"/>
<rect y="263" width="24.90" height="1" fill="#8282cc"/>
<rect y="264" width="24.90" height="2" fill="#7b7bc9"/>
<rect y="266" width="24.90" height="1" fill="#a0a0d8"/>
<rect y="267" width="24.90" height="1" fill="#8282cc"/>
<rect y="268" width="24.90" height="2" fill="#8686cd"/>
<rect y="270" width="24.90" height="2" fill="#6969c1"/>
<rect y="272" width="24.90" height="1" fill="#7c7cc9"/>
<rect y="273" width="24.90" height="2" fill="#8484cc"/>
<rect y="275" width="24.90" height="2" fill="#5c5cbc"/>
<rect y="277" width="24.90" height="1" fill="#6060be"/>
<rect y="278" width="24.90" height="1" fill="#6a6ac1"/>
<rect y="279" width="24.90" height="1" fill="#5f5fbd"/>
<rect y="280" width="24.90" height="1" fill="#5b5bbc"/>
<rect y="281" width="24.90" height="2" fill="#5858ba"/>
<rect y="283" width="24.90" height="1" fill="#7f7fca"/>
<rect y="284" width="24.90" height="1" fill="#5050b7"/>
<rect y="285" width="24.90" height="2" fill="#5454b9"/>
<rect y="287" width="24.90" height="1" fill="#a3a3d9"/>
<rect y="288" width="24.90" height="2" fill="#a2a2d9"/>
<rect y="290" width="24.90" height="1" fill="#5f5fbd"/>
<rect y="291" width="24.90" height="2" fill="#7f7fca"/>
<rect y="293" width="24.90" height="2" fill="#3838ad"/>
<rect y="295" width="24.90" height="2" fill="#7e7eca"/>
<rect y="297" width="24.90" height="1" fill="#6b6bc2"/>
<rect y="298" width="24.90" height="1" fill="#5555b9"/>
<rect y="299" width="24.90" height="1" fill="#ababdd"/>
<rect y="300" width="24.90" height="1" fill="#7575c6"/>
<rect y="301" width="24.90" height="1" fill="#8989ce"/>
<rect y="302" width="24.90" height="2" fill="#5353b8"/>
<rect y="304" width="24.90" height="1" fill="#6363bf"/>
<rect y="305" width="24.90" height="2" fill="#7070c4"/>
<rect y="307" width="24.90" height="1" fill="#8383cc"/>
<rect y="308" width="24.90" height="1" fill="#6666c0"/>
<rect y="309" width="24.90" height="2" fill="#b2b2df"/>
<rect y="311" width="24.90" height="2" fill="#4e4eb6"/>
<rect y="313" width="24.90" height="1" fill="#b1b1df"/>
<rect y="314" width="24.90" height="1" fill="#5454b9"/>
<rect y="315" width="24.90" height="1" fill="#5858ba"/>
<rect y="316" width="24.90" height="1" fill="#9a9ad5"/>
<rect y="317" width="24.90" height="1" fill="#7878c7"/>
<rect y="318" width="24.90" height="1" fill="#b7b7e1"/>
<rect y="319" width="24.90" height="2" fill="#9090d1"/>
<rect y="321" width="24.90" height="1" fill="#7b7bc9"/>
<rect y="322" width="24.90" height="2" fill="#5d5dbc"/>
<rect y="324" width="24.90" height="0.5" fill="#6f6fc4"/>
</g>
</g>
<g shape-rendering="crispEdges">
<rect x="113.80" y="327.00" width="4.54" height="7.50" fill="#000096"/>
<rect x="118.04" y="327.00" width="4.54" height="7.50" fill="#2626a6"/>
<rect x="122.28" y="327.00" width="4.54" height="7.50" fill="#4040b0"/>
<rect x="126.52" y="327.00" width="4.54" height="7.50" fill="#5959bb"/>
<rect x="130.76" y="327.00" width="4.54" height="7.50" fill="#7373c5"/>
<rect x="135.00" y="327.00" width="4.54" height="7.50" fill="#8c8cd0"/>
<rect x="139.24" y="327.00" width="4.54" height="7.50" fill="#a6a6da"/>
<rect x="143.48" y="327.00" width="4.54" height="7.50" fill="#bfbfe5"/>
<rect x="147.72" y="327.00" width="4.54" height="7.50" fill="#d9d9ef"/>
<rect x="151.96" y="327.00" width="4.54" height="7.50" fill="#f2f2fa"/>
<rect x="156.20" y="327.00" width="4.54" height="7.50" fill="#fdf2f2"/>
<rect x="160.44" y="327.00" width="4.54" height="7.50" fill="#f8d9d9"/>
<rect x="164.68" y="327.00" width="4.54" height="7.50" fill="#f3bfbf"/>
<rect x="168.92" y="327.00" width="4.54" height="7.50" fill="#efa6a6"/>
<rect x="173.16" y="327.00" width="4.54" height="7.50" fill="#ea8c8c"/>
<rect x="177.40" y="327.00" width="4.54" height="7.50" fill="#e57373"/>
<rect x="181.64" y="327.00" width="4.54" height="7.50" fill="#e05959"/>
<rect x="185.88" y="327.00" width="4.54" height="7.50" fill="#dc4040"/>
<rect x="190.12" y="327.00" width="4.54" height="7.50" fill="#d72626"/>
<rect x="194.36" y="327.00" width="4.54" height="7.50" fill="#d00000"/>
</g>
<line x1="114.3" y1="334.0" x2="114.3" y2="338.3" stroke="#000" stroke-width="1"/>
<line x1="156.4" y1="334.0" x2="156.4" y2="338.3" stroke="#000" stroke-width="1"/>
<line x1="197.9" y1="334.0" x2="197.9" y2="338.3" stroke="#000" stroke-width="1"/>
<text x="111.8" y="350.3" font-size="11.75" text-anchor="middle">-1.0</text>
<text x="156.4" y="350.3" font-size="11.75" text-anchor="middle">0</text>
<text x="197.7" y="350.3" font-size="11.75" text-anchor="middle">1.0</text>
</g>
<g id="panel-b">
<text x="283.3" y="14.0" font-size="19" font-weight="bold">b</text>
<text x="439.1" y="18.6" font-size="11.75" text-anchor="middle">GO TERM_BP_DIRECT</text>
<line x1="378.0" y1="24.6" x2="504.8" y2="24.6" stroke="#000" stroke-width="1.1"/>
<line x1="300.7" y1="26.5" x2="300.7" y2="110.2" stroke="#000" stroke-width="1.1"/>
<text x="289.3" y="74.1" font-size="11.75" text-anchor="middle">II</text>
<line x1="301.8" y1="140.1" x2="301.8" y2="298.6" stroke="#000" stroke-width="1.1"/>
<text x="287.6" y="214.0" font-size="11.75" text-anchor="middle">III</text>
<rect x="504.80" y="29.42" width="72.90" height="9.20" fill="#ff6600" stroke="#000" stroke-width="1"/>
<rect x="504.80" y="47.46" width="78.85" height="9.20" fill="#ff6600" stroke="#000" stroke-width="1"/>
<rect x="504.80" y="65.50" width="84.27" height="9.20" fill="#ff6600" stroke="#000" stroke-width="1"/>
<rect x="504.80" y="83.54" width="103.61" height="9.20" fill="#ff6600" stroke="#000" stroke-width="1"/>
<rect x="504.80" y="101.58" width="117.74" height="9.20" fill="#ff6600" stroke="#000" stroke-width="1"/>
<line x1="504.8" y1="24.5" x2="504.8" y2="117.7" stroke="#000" stroke-width="1.1"/>
<line x1="504.8" y1="115.2" x2="664.7" y2="115.2" stroke="#000" stroke-width="1.1"/>
<line x1="502.6" y1="25.0" x2="504.8" y2="25.0" stroke="#000" stroke-width="1"/>
<line x1="502.6" y1="43.0" x2="504.8" y2="43.0" stroke="#000" stroke-width="1"/>
<line x1="502.6" y1="61.1" x2="504.8" y2="61.1" stroke="#000" stroke-width="1"/>
<line x1="502.6" y1="79.1" x2="504.8" y2="79.1" stroke="#000" stroke-width="1"/>
<line x1="502.6" y1="97.2" x2="504.8" y2="97.2" stroke="#000" stroke-width="1"/>
<line x1="502.6" y1="115.2" x2="504.8" y2="115.2" stroke="#000" stroke-width="1"/>
<line x1="504.8" y1="115.2" x2="504.8" y2="117.7" stroke="#000" stroke-width="1"/>
<text x="504.8" y="133.1" font-size="11.75" text-anchor="middle">0</text>
<line x1="557.9" y1="115.2" x2="557.9" y2="117.7" stroke="#000" stroke-width="1"/>
<text x="557.9" y="133.1" font-size="11.75" text-anchor="middle">5</text>
<line x1="611.1" y1="115.2" x2="611.1" y2="117.7" stroke="#000" stroke-width="1"/>
<text x="611.1" y="133.1" font-size="11.75" text-anchor="middle">10</text>
<line x1="664.2" y1="115.2" x2="664.2" y2="117.7" stroke="#000" stroke-width="1"/>
<text x="664.2" y="133.1" font-size="11.75" text-anchor="middle">15</text>
<text x="498.7" y="35.9" font-size="9.85" text-anchor="end">Immune response</text>
<text x="498.7" y="52.3" font-size="9.85" text-anchor="end">Fat cell differentiation</text>
<text x="498.7" y="67.3" font-size="9.85" text-anchor="end">Antigen processing and presentation of</text>
<text x="498.7" y="78.3" font-size="9.85" text-anchor="end">exogenous peptide antigen via MHC class II</text>
<text x="498.7" y="94.6" font-size="9.85" text-anchor="end">Inflammatory response</text>
<text x="500.3" y="109.7" font-size="9.85" text-anchor="end">Immune system process</text>
<rect x="504.80" y="142.94" width="90.79" height="8.60" fill="#ff6600" stroke="#000" stroke-width="1"/>
<rect x="504.80" y="159.22" width="95.88" height="8.60" fill="#ff6600" stroke="#000" stroke-width="1"/>
<rect x="504.80" y="175.50" width="95.88" height="8.60" fill="#ff6600" stroke="#000" stroke-width="1"/>
<rect x="504.80" y="191.78" width="97.15" height="8.60" fill="#ff6600" stroke="#000" stroke-width="1"/>
<rect x="504.80" y="208.06" width="103.09" height="8.60" fill="#ff6600" stroke="#000" stroke-width="1"/>
<rect x="504.80" y="224.34" width="103.09" height="8.60" fill="#ff6600" stroke="#000" stroke-width="1"/>
<rect x="504.80" y="240.62" width="105.21" height="8.60" fill="#ff6600" stroke="#000" stroke-width="1"/>
<rect x="504.80" y="256.90" width="107.76" height="8.60" fill="#ff6600" stroke="#000" stroke-width="1"/>
<rect x="504.80" y="273.18" width="113.70" height="8.60" fill="#ff6600" stroke="#000" stroke-width="1"/>
<rect x="504.80" y="289.46" width="142.55" height="8.60" fill="#ff6600" stroke="#000" stroke-width="1"/>
<line x1="504.8" y1="138.6" x2="504.8" y2="304.4" stroke="#000" stroke-width="1.1"/>
<line x1="504.8" y1="301.9" x2="675.0" y2="301.9" stroke="#000" stroke-width="1.1"/>
<line x1="502.6" y1="139.1" x2="504.8" y2="139.1" stroke="#000" stroke-width="1"/>
<line x1="502.6" y1="155.4" x2="504.8" y2="155.4" stroke="#000" stroke-width="1"/>
<line x1="502.6" y1="171.7" x2="504.8" y2="171.7" stroke="#000" stroke-width="1"/>
<line x1="502.6" y1="187.9" x2="504.8" y2="187.9" stroke="#000" stroke-width="1"/>
<line x1="502.6" y1="204.2" x2="504.8" y2="204.2" stroke="#000" stroke-width="1"/>
<line x1="502.6" y1="220.5" x2="504.8" y2="220.5" stroke="#000" stroke-width="1"/>
<line x1="502.6" y1="236.8" x2="504.8" y2="236.8" stroke="#000" stroke-width="1"/>
<line x1="502.6" y1="253.1" x2="504.8" y2="253.1" stroke="#000" stroke-width="1"/>
<line x1="502.6" y1="269.3" x2="504.8" y2="269.3" stroke="#000" stroke-width="1"/>
<line x1="502.6" y1="285.6" x2="504.8" y2="285.6" stroke="#000" stroke-width="1"/>
<line x1="502.6" y1="301.9" x2="504.8" y2="301.9" stroke="#000" stroke-width="1"/>
<line x1="504.8" y1="301.9" x2="504.8" y2="304.4" stroke="#000" stroke-width="1"/>
<text x="504.8" y="319.3" font-size="11.75" text-anchor="middle">0</text>
<line x1="547.2" y1="301.9" x2="547.2" y2="304.4" stroke="#000" stroke-width="1"/>
<text x="547.2" y="319.3" font-size="11.75" text-anchor="middle">1</text>
<line x1="589.6" y1="301.9" x2="589.6" y2="304.4" stroke="#000" stroke-width="1"/>
<text x="589.6" y="319.3" font-size="11.75" text-anchor="middle">2</text>
<line x1="632.1" y1="301.9" x2="632.1" y2="304.4" stroke="#000" stroke-width="1"/>
<text x="632.1" y="319.3" font-size="11.75" text-anchor="middle">3</text>
<line x1="674.5" y1="301.9" x2="674.5" y2="304.4" stroke="#000" stroke-width="1"/>
<text x="674.5" y="319.3" font-size="11.75" text-anchor="middle">4</text>
<text x="498.3" y="147.8" font-size="9.85" text-anchor="end">Response to ischemia</text>
<text x="498.3" y="159.5" font-size="9.85" text-anchor="end">Regulation of transcription from RNA</text>
<text x="498.3" y="171.4" font-size="9.85" text-anchor="end">polymerase II promoter</text>
<text x="500.0" y="184.1" font-size="9.85" text-anchor="end">Metabolic process</text>
<text x="500.6" y="198.8" font-size="9.85" text-anchor="end">Carbohydrate metabolic process</text>
<text x="500.6" y="214.6" font-size="9.85" text-anchor="end">Regulation of apoptotic process</text>
<text x="498.3" y="231.4" font-size="9.85" text-anchor="end">Oxidation-reduction process</text>
<text x="500.6" y="246.9" font-size="9.85" text-anchor="end">Synaptic transmission, cholinergic</text>
<text x="500.6" y="262.6" font-size="9.85" text-anchor="end">Positive regulation of apoptotic process</text>
<text x="500.0" y="279.4" font-size="9.85" text-anchor="end">Cellular response to calcium ion</text>
<text x="501.6" y="296.2" font-size="9.85" text-anchor="end">Extrinsic apoptotic signaling pathway</text>
<text x="586" y="334.4" font-size="11.75" text-anchor="middle">-log<tspan font-size="7.5" dy="2.5">10</tspan><tspan dy="-2.5"> (</tspan><tspan font-style="italic">P</tspan> value)</text>
</g>
<g id="panel-c">
<text x="0.5" y="367.4" font-size="19" font-weight="bold">c</text>
<defs>
<clipPath id="clipY"><circle cx="149.8" cy="451.2" r="63.9"/></clipPath>
<clipPath id="clipG"><ellipse cx="0" cy="0" rx="32.9" ry="46.6" transform="translate(213.5,439.1) rotate(-14.5)"/></clipPath>
<clipPath id="clipGY" clip-path="url(#clipY)"><ellipse cx="0" cy="0" rx="32.9" ry="46.6" transform="translate(213.5,439.1) rotate(-14.5)"/></clipPath>
</defs>
<circle cx="149.8" cy="451.2" r="63.9" fill="#ffff99"/>
<ellipse cx="0" cy="0" rx="32.9" ry="46.6" transform="translate(213.5,439.1) rotate(-14.5)" fill="#98e0ba"/>
<ellipse cx="0" cy="0" rx="34" ry="42.8" transform="translate(211.2,472.2) rotate(31.5)" fill="#d0d0f2"/>
<g clip-path="url(#clipY)"><ellipse cx="0" cy="0" rx="32.9" ry="46.6" transform="translate(213.5,439.1) rotate(-14.5)" fill="#96e070"/></g>
<g clip-path="url(#clipY)"><ellipse cx="0" cy="0" rx="34" ry="42.8" transform="translate(211.2,472.2) rotate(31.5)" fill="#d2ce9c"/></g>
<g clip-path="url(#clipG)"><ellipse cx="0" cy="0" rx="34" ry="42.8" transform="translate(211.2,472.2) rotate(31.5)" fill="#78b2b8"/></g>
<g clip-path="url(#clipY)"><g clip-path="url(#clipG)"><ellipse cx="0" cy="0" rx="34" ry="42.8" transform="translate(211.2,472.2) rotate(31.5)" fill="#82b88e"/></g></g>
<circle cx="149.8" cy="451.2" r="63.9" fill="none" stroke="#000" stroke-width="1"/>
<ellipse cx="0" cy="0" rx="32.9" ry="46.6" transform="translate(213.5,439.1) rotate(-14.5)" fill="none" stroke="#000" stroke-width="1"/>
<ellipse cx="0" cy="0" rx="34" ry="42.8" transform="translate(211.2,472.2) rotate(31.5)" fill="none" stroke="#000" stroke-width="1"/>
<text x="141.5" y="458.9" font-size="10" text-anchor="middle">5469</text>
<text x="220.8" y="421.6" font-size="10" text-anchor="middle">455</text>
<text x="194.2" y="430.6" font-size="10" text-anchor="middle">261</text>
<text x="201.3" y="461.6" font-size="10" text-anchor="middle" font-weight="bold">298</text>
<text x="228.8" y="463.3" font-size="10" text-anchor="middle">473</text>
<text x="188.1" y="488.0" font-size="10" text-anchor="middle">269</text>
<text x="214.2" y="502.2" font-size="10" text-anchor="middle">388</text>
<text x="249.5" y="374.9" font-size="11.75" text-anchor="middle">HFD WT vs KO</text>
<text x="248.3" y="389.0" font-size="11.75" text-anchor="middle">1490 genes</text>
<text x="247.7" y="523.8" font-size="11.75" text-anchor="middle">1430 genes</text>
<text x="249.8" y="538.2" font-size="11.75" text-anchor="middle">CD WT vs KO</text>
<text x="102.8" y="525.0" font-size="11.75" text-anchor="middle">6297 loci</text>
<text x="105.5" y="538.2" font-size="11.75" text-anchor="middle">MLL4 binding loci</text>
</g>
<g id="panel-d">
<text x="350.0" y="367.3" font-size="19" font-weight="bold">d</text>
<rect x="437.50" y="366.50" width="201.00" height="166.00" fill="#f9f9f9"/>
<line x1="478.2" y1="366.5" x2="478.2" y2="532.5" stroke="#ffffff" stroke-width="1"/>
<line x1="437.5" y1="499.3" x2="638.5" y2="499.3" stroke="#ffffff" stroke-width="1"/>
<line x1="518.4" y1="366.5" x2="518.4" y2="532.5" stroke="#ffffff" stroke-width="1"/>
<line x1="437.5" y1="466.1" x2="638.5" y2="466.1" stroke="#ffffff" stroke-width="1"/>
<line x1="558.6" y1="366.5" x2="558.6" y2="532.5" stroke="#ffffff" stroke-width="1"/>
<line x1="437.5" y1="432.9" x2="638.5" y2="432.9" stroke="#ffffff" stroke-width="1"/>
<line x1="598.8" y1="366.5" x2="598.8" y2="532.5" stroke="#ffffff" stroke-width="1"/>
<line x1="437.5" y1="399.7" x2="638.5" y2="399.7" stroke="#ffffff" stroke-width="1"/>
<g fill="#bdbdbd">
<circle cx="594.1" cy="379.9" r="1.95"/>
<circle cx="589.8" cy="392.3" r="1.95"/>
<circle cx="592.9" cy="392.3" r="1.95"/>
<circle cx="611.7" cy="404.0" r="1.95"/>
<circle cx="606.7" cy="407.5" r="1.95"/>
<circle cx="564.5" cy="407.2" r="1.95"/>
<circle cx="567.1" cy="406.8" r="1.95"/>
<circle cx="589.5" cy="411.3" r="1.95"/>
<circle cx="580.6" cy="416.7" r="1.95"/>
<circle cx="559.9" cy="417.0" r="1.95"/>
<circle cx="558.4" cy="420.2" r="1.95"/>
<circle cx="555.3" cy="423.2" r="1.95"/>
<circle cx="575.6" cy="421.8" r="1.95"/>
<circle cx="582.2" cy="422.1" r="1.95"/>
<circle cx="591.0" cy="426.4" r="1.95"/>
<circle cx="585.2" cy="427.4" r="1.95"/>
<circle cx="574.0" cy="427.4" r="1.95"/>
<circle cx="578.0" cy="427.1" r="1.95"/>
<circle cx="574.0" cy="430.8" r="1.95"/>
<circle cx="578.0" cy="429.9" r="1.95"/>
<circle cx="564.5" cy="425.6" r="1.95"/>
<circle cx="567.9" cy="425.1" r="1.95"/>
<circle cx="552.3" cy="427.0" r="1.95"/>
<circle cx="475.6" cy="472.6" r="1.95"/>
<circle cx="485.9" cy="475.3" r="1.95"/>
<circle cx="495.3" cy="478.0" r="1.95"/>
<circle cx="466.2" cy="485.7" r="1.95"/>
<circle cx="480.2" cy="483.9" r="1.95"/>
<circle cx="498.5" cy="485.2" r="1.95"/>
<circle cx="477.0" cy="492.2" r="1.95"/>
<circle cx="461.7" cy="500.8" r="1.95"/>
<circle cx="468.4" cy="504.3" r="1.95"/>
<circle cx="478.9" cy="507.0" r="1.95"/>
<circle cx="464.9" cy="511.0" r="1.95"/>
<circle cx="500.6" cy="471.2" r="1.95"/>
<circle cx="503.8" cy="469.9" r="1.95"/>
<circle cx="502.5" cy="477.2" r="1.95"/>
<circle cx="506.5" cy="478.0" r="1.95"/>
<circle cx="517.9" cy="484.6" r="1.95"/>
<circle cx="511.3" cy="489.9" r="1.95"/>
<circle cx="515.6" cy="489.9" r="1.95"/>
<circle cx="552.3" cy="434.0" r="1.95"/>
<circle cx="559.0" cy="431.4" r="1.95"/>
<circle cx="554.1" cy="433.7" r="1.95"/>
<circle cx="557.5" cy="434.6" r="1.95"/>
<circle cx="561.4" cy="430.1" r="1.95"/>
<circle cx="550.3" cy="431.1" r="1.95"/>
<circle cx="558.1" cy="429.4" r="1.95"/>
<circle cx="553.4" cy="431.8" r="1.95"/>
<circle cx="560.2" cy="435.2" r="1.95"/>
<circle cx="556.6" cy="428.5" r="1.95"/>
<circle cx="563.1" cy="430.1" r="1.95"/>
<circle cx="559.2" cy="431.5" r="1.95"/>
<circle cx="565.2" cy="429.8" r="1.95"/>
<circle cx="557.1" cy="434.2" r="1.95"/>
<circle cx="559.2" cy="434.1" r="1.95"/>
<circle cx="554.5" cy="436.2" r="1.95"/>
<circle cx="561.9" cy="430.4" r="1.95"/>
<circle cx="568.4" cy="426.2" r="1.95"/>
<circle cx="562.7" cy="434.7" r="1.95"/>
<circle cx="567.8" cy="427.4" r="1.95"/>
<circle cx="562.3" cy="434.4" r="1.95"/>
<circle cx="558.9" cy="433.0" r="1.95"/>
<circle cx="564.8" cy="429.5" r="1.95"/>
<circle cx="562.2" cy="430.7" r="1.95"/>
<circle cx="555.8" cy="429.3" r="1.95"/>
<circle cx="552.5" cy="434.9" r="1.95"/>
<circle cx="559.6" cy="434.3" r="1.95"/>
<circle cx="561.6" cy="428.0" r="1.95"/>
<circle cx="558.4" cy="435.8" r="1.95"/>
<circle cx="554.0" cy="438.1" r="1.95"/>
<circle cx="560.0" cy="432.4" r="1.95"/>
<circle cx="562.7" cy="433.2" r="1.95"/>
<circle cx="563.6" cy="430.3" r="1.95"/>
<circle cx="556.4" cy="430.4" r="1.95"/>
<circle cx="555.2" cy="428.9" r="1.95"/>
<circle cx="554.8" cy="434.3" r="1.95"/>
<circle cx="552.4" cy="440.0" r="1.95"/>
<circle cx="557.9" cy="432.6" r="1.95"/>
<circle cx="556.3" cy="433.3" r="1.95"/>
<circle cx="559.3" cy="431.3" r="1.95"/>
<circle cx="557.0" cy="432.4" r="1.95"/>
<circle cx="554.9" cy="430.1" r="1.95"/>
<circle cx="556.8" cy="437.0" r="1.95"/>
<circle cx="566.2" cy="430.0" r="1.95"/>
<circle cx="558.5" cy="433.9" r="1.95"/>
<circle cx="553.2" cy="436.6" r="1.95"/>
<circle cx="552.3" cy="437.2" r="1.95"/>
<circle cx="549.1" cy="433.6" r="1.95"/>
<circle cx="556.2" cy="438.6" r="1.95"/>
<circle cx="555.7" cy="437.1" r="1.95"/>
<circle cx="562.5" cy="432.1" r="1.95"/>
<circle cx="557.0" cy="431.8" r="1.95"/>
<circle cx="564.8" cy="430.9" r="1.95"/>
<circle cx="562.0" cy="430.1" r="1.95"/>
<circle cx="556.8" cy="436.9" r="1.95"/>
<circle cx="555.9" cy="430.2" r="1.95"/>
<circle cx="553.3" cy="439.5" r="1.95"/>
<circle cx="560.8" cy="429.9" r="1.95"/>
<circle cx="552.4" cy="439.7" r="1.95"/>
<circle cx="553.5" cy="436.6" r="1.95"/>
<circle cx="552.4" cy="436.3" r="1.95"/>
<circle cx="560.1" cy="435.2" r="1.95"/>
<circle cx="566.2" cy="429.2" r="1.95"/>
<circle cx="566.9" cy="428.1" r="1.95"/>
<circle cx="563.4" cy="428.4" r="1.95"/>
<circle cx="557.7" cy="434.6" r="1.95"/>
<circle cx="557.6" cy="436.1" r="1.95"/>
<circle cx="555.4" cy="433.6" r="1.95"/>
<circle cx="563.8" cy="426.2" r="1.95"/>
<circle cx="566.5" cy="427.9" r="1.95"/>
<circle cx="553.0" cy="433.8" r="1.95"/>
<circle cx="553.7" cy="431.7" r="1.95"/>
<circle cx="559.7" cy="432.3" r="1.95"/>
<circle cx="555.7" cy="438.8" r="1.95"/>
<circle cx="558.0" cy="431.0" r="1.95"/>
<circle cx="549.6" cy="433.8" r="1.95"/>
<circle cx="555.5" cy="429.3" r="1.95"/>
<circle cx="563.2" cy="429.9" r="1.95"/>
<circle cx="560.4" cy="431.3" r="1.95"/>
<circle cx="554.6" cy="437.5" r="1.95"/>
<circle cx="552.9" cy="434.1" r="1.95"/>
<circle cx="554.3" cy="436.0" r="1.95"/>
<circle cx="560.1" cy="438.2" r="1.95"/>
<circle cx="565.7" cy="430.6" r="1.95"/>
<circle cx="554.6" cy="436.3" r="1.95"/>
<circle cx="509.2" cy="470.1" r="1.95"/>
<circle cx="518.6" cy="466.6" r="1.95"/>
<circle cx="512.6" cy="467.4" r="1.95"/>
<circle cx="521.9" cy="467.2" r="1.95"/>
<circle cx="512.6" cy="468.2" r="1.95"/>
<circle cx="505.9" cy="472.6" r="1.95"/>
<circle cx="512.2" cy="467.3" r="1.95"/>
<circle cx="514.7" cy="464.9" r="1.95"/>
<circle cx="514.1" cy="464.6" r="1.95"/>
<circle cx="517.6" cy="465.8" r="1.95"/>
<circle cx="506.9" cy="474.9" r="1.95"/>
<circle cx="505.2" cy="474.6" r="1.95"/>
<circle cx="518.6" cy="471.9" r="1.95"/>
<circle cx="513.9" cy="468.9" r="1.95"/>
<circle cx="510.3" cy="468.7" r="1.95"/>
<circle cx="520.1" cy="464.3" r="1.95"/>
<circle cx="520.1" cy="463.8" r="1.95"/>
<circle cx="525.9" cy="468.3" r="1.95"/>
<circle cx="525.6" cy="466.0" r="1.95"/>
<circle cx="522.9" cy="460.6" r="1.95"/>
<circle cx="508.9" cy="474.0" r="1.95"/>
<circle cx="510.8" cy="474.8" r="1.95"/>
<circle cx="513.8" cy="467.9" r="1.95"/>
<circle cx="509.4" cy="472.8" r="1.95"/>
<circle cx="512.4" cy="464.4" r="1.95"/>
<circle cx="519.7" cy="467.8" r="1.95"/>
<circle cx="511.9" cy="468.3" r="1.95"/>
<circle cx="514.6" cy="468.7" r="1.95"/>
<circle cx="518.7" cy="469.4" r="1.95"/>
<circle cx="500.6" cy="478.8" r="1.95"/>
<circle cx="517.8" cy="459.9" r="1.95"/>
<circle cx="507.9" cy="471.5" r="1.95"/>
<circle cx="512.3" cy="470.4" r="1.95"/>
<circle cx="520.4" cy="458.3" r="1.95"/>
<circle cx="510.0" cy="470.7" r="1.95"/>
<circle cx="519.2" cy="467.2" r="1.95"/>
<circle cx="511.8" cy="471.9" r="1.95"/>
<circle cx="511.9" cy="471.5" r="1.95"/>
<circle cx="506.0" cy="474.6" r="1.95"/>
<circle cx="512.3" cy="472.0" r="1.95"/>
<circle cx="517.7" cy="464.5" r="1.95"/>
<circle cx="517.9" cy="467.1" r="1.95"/>
<circle cx="512.0" cy="478.5" r="1.95"/>
<circle cx="512.2" cy="466.9" r="1.95"/>
<circle cx="507.6" cy="472.5" r="1.95"/>
<circle cx="513.7" cy="463.5" r="1.95"/>
<circle cx="515.4" cy="460.4" r="1.95"/>
<circle cx="515.2" cy="470.4" r="1.95"/>
<circle cx="506.9" cy="467.6" r="1.95"/>
<circle cx="506.1" cy="476.3" r="1.95"/>
<circle cx="520.3" cy="470.3" r="1.95"/>
<circle cx="507.0" cy="474.3" r="1.95"/>
<circle cx="505.0" cy="477.0" r="1.95"/>
<circle cx="510.0" cy="473.2" r="1.95"/>
<circle cx="506.1" cy="476.4" r="1.95"/>
<circle cx="512.5" cy="469.9" r="1.95"/>
<circle cx="514.2" cy="468.0" r="1.95"/>
<circle cx="512.5" cy="461.4" r="1.95"/>
<circle cx="515.0" cy="467.0" r="1.95"/>
<circle cx="517.5" cy="464.7" r="1.95"/>
<circle cx="505.8" cy="475.3" r="1.95"/>
<circle cx="501.7" cy="478.8" r="1.95"/>
<circle cx="507.6" cy="476.3" r="1.95"/>
<circle cx="511.6" cy="469.7" r="1.95"/>
<circle cx="511.6" cy="472.4" r="1.95"/>
<circle cx="515.8" cy="471.5" r="1.95"/>
<circle cx="516.2" cy="462.6" r="1.95"/>
<circle cx="514.4" cy="473.3" r="1.95"/>
<circle cx="513.6" cy="475.5" r="1.95"/>
<circle cx="514.8" cy="475.2" r="1.95"/>
<circle cx="517.5" cy="469.2" r="1.95"/>
<circle cx="508.9" cy="469.3" r="1.95"/>
<circle cx="514.5" cy="469.9" r="1.95"/>
<circle cx="519.5" cy="458.9" r="1.95"/>
<circle cx="513.2" cy="467.2" r="1.95"/>
<circle cx="513.8" cy="470.1" r="1.95"/>
<circle cx="518.4" cy="464.0" r="1.95"/>
<circle cx="507.1" cy="474.9" r="1.95"/>
<circle cx="511.4" cy="466.3" r="1.95"/>
<circle cx="517.8" cy="465.8" r="1.95"/>
<circle cx="519.5" cy="466.8" r="1.95"/>
<circle cx="507.8" cy="472.3" r="1.95"/>
<circle cx="514.9" cy="467.8" r="1.95"/>
<circle cx="507.0" cy="471.7" r="1.95"/>
<circle cx="518.2" cy="466.0" r="1.95"/>
<circle cx="512.1" cy="468.6" r="1.95"/>
<circle cx="518.8" cy="465.0" r="1.95"/>
<circle cx="511.1" cy="471.0" r="1.95"/>
<circle cx="512.9" cy="466.1" r="1.95"/>
<circle cx="515.0" cy="470.5" r="1.95"/>
<circle cx="520.1" cy="463.6" r="1.95"/>
<circle cx="512.1" cy="470.4" r="1.95"/>
<circle cx="506.9" cy="471.4" r="1.95"/>
<circle cx="512.1" cy="469.7" r="1.95"/>
<circle cx="516.7" cy="470.1" r="1.95"/>
<circle cx="508.3" cy="472.3" r="1.95"/>
<circle cx="503.8" cy="476.6" r="1.95"/>
<circle cx="507.1" cy="473.4" r="1.95"/>
<circle cx="517.0" cy="468.2" r="1.95"/>
<circle cx="515.5" cy="468.6" r="1.95"/>
<circle cx="505.2" cy="474.4" r="1.95"/>
<circle cx="502.5" cy="472.6" r="1.95"/>
<circle cx="509.4" cy="470.5" r="1.95"/>
<circle cx="510.8" cy="472.5" r="1.95"/>
<circle cx="515.6" cy="464.9" r="1.95"/>
<circle cx="521.6" cy="464.9" r="1.95"/>
<circle cx="521.3" cy="468.4" r="1.95"/>
<circle cx="507.6" cy="471.6" r="1.95"/>
<circle cx="510.2" cy="473.8" r="1.95"/>
<circle cx="507.4" cy="474.0" r="1.95"/>
<circle cx="504.5" cy="474.3" r="1.95"/>
<circle cx="512.9" cy="466.4" r="1.95"/>
<circle cx="521.1" cy="465.5" r="1.95"/>
<circle cx="509.2" cy="475.5" r="1.95"/>
<circle cx="519.8" cy="467.1" r="1.95"/>
<circle cx="516.5" cy="468.2" r="1.95"/>
<circle cx="522.2" cy="467.8" r="1.95"/>
<circle cx="524.3" cy="464.7" r="1.95"/>
<circle cx="515.8" cy="466.8" r="1.95"/>
<circle cx="515.6" cy="468.0" r="1.95"/>
<circle cx="503.1" cy="478.0" r="1.95"/>
<circle cx="516.7" cy="471.8" r="1.95"/>
<circle cx="517.8" cy="467.5" r="1.95"/>
<circle cx="508.6" cy="476.5" r="1.95"/>
<circle cx="517.1" cy="467.5" r="1.95"/>
<circle cx="518.1" cy="471.4" r="1.95"/>
<circle cx="510.9" cy="471.9" r="1.95"/>
<circle cx="513.3" cy="471.3" r="1.95"/>
<circle cx="522.4" cy="464.3" r="1.95"/>
<circle cx="520.7" cy="465.2" r="1.95"/>
<circle cx="512.2" cy="470.5" r="1.95"/>
<circle cx="500.5" cy="477.9" r="1.95"/>
<circle cx="504.7" cy="476.1" r="1.95"/>
<circle cx="512.1" cy="461.8" r="1.95"/>
<circle cx="518.8" cy="470.5" r="1.95"/>
<circle cx="518.0" cy="466.4" r="1.95"/>
<circle cx="511.6" cy="471.2" r="1.95"/>
<circle cx="508.5" cy="468.9" r="1.95"/>
<circle cx="515.3" cy="468.6" r="1.95"/>
<circle cx="516.6" cy="472.6" r="1.95"/>
<circle cx="514.5" cy="470.3" r="1.95"/>
<circle cx="506.7" cy="470.4" r="1.95"/>
<circle cx="514.8" cy="467.5" r="1.95"/>
<circle cx="512.1" cy="472.7" r="1.95"/>
<circle cx="508.0" cy="472.4" r="1.95"/>
<circle cx="521.3" cy="461.9" r="1.95"/>
<circle cx="506.7" cy="474.1" r="1.95"/>
<circle cx="504.7" cy="474.3" r="1.95"/>
<circle cx="519.3" cy="468.4" r="1.95"/>
<circle cx="504.9" cy="478.4" r="1.95"/>
</g>
<line x1="538.5" y1="366.5" x2="538.5" y2="532.5" stroke="#222" stroke-width="1"/>
<line x1="437.5" y1="449.5" x2="638.5" y2="449.5" stroke="#222" stroke-width="1"/>
<rect x="437.5" y="366.5" width="201.0" height="166.0" fill="none" stroke="#111" stroke-width="1.1"/>
<circle cx="486.4" cy="491.9" r="3" fill="#1070c0"/>
<circle cx="523.8" cy="461.3" r="3" fill="#1070c0"/>
<text x="499.3" y="501.6" font-size="11.75" font-style="italic">Nt5c1a</text>
<text x="541.0" y="468.6" font-size="11.75" font-style="italic">Ampd3</text>
<text x="606.3" y="381.3" font-size="9.8" fill="#ff1a1a">85 Up</text>
<text x="443.2" y="525.5" font-size="9.8" fill="#1070c8">213 Down</text>
<text x="431.0" y="373.0" font-size="11" text-anchor="end">5</text>
<text x="431.0" y="404.7" font-size="11" text-anchor="end">3</text>
<text x="431.0" y="438.8" font-size="11" text-anchor="end">1</text>
<text x="431.0" y="469.7" font-size="11" text-anchor="end">-1</text>
<text x="431.0" y="503.2" font-size="11" text-anchor="end">-3</text>
<text x="431.0" y="534.1" font-size="11" text-anchor="end">-5</text>
<text x="436.6" y="547.0" font-size="11" text-anchor="middle">-5</text>
<text x="476.2" y="547.0" font-size="11" text-anchor="middle">-3</text>
<text x="516.3" y="547.0" font-size="11" text-anchor="middle">-1</text>
<text x="556.6" y="547.0" font-size="11" text-anchor="middle">1</text>
<text x="597.7" y="547.0" font-size="11" text-anchor="middle">3</text>
<text x="638.0" y="547.0" font-size="11" text-anchor="middle">5</text>
<text x="537.6" y="561.8" font-size="11.75" text-anchor="middle">log<tspan font-size="7.5" dy="2.5">2</tspan><tspan dy="-2.5">(Fold change) CD</tspan></text>
<text transform="translate(410.2,449.7) rotate(-90)" font-size="11.75" text-anchor="middle">log<tspan font-size="7.5" dy="2.5">2</tspan><tspan dy="-2.5">(Fold change) HFD</tspan></text>
</g>
<g id="panel-e">
<text x="0.5" y="595.2" font-size="19" font-weight="bold">e</text>
<defs>
<radialGradient id="gPur" cx="50%" cy="50%" r="58%"><stop offset="0" stop-color="#dbd0ea"/><stop offset="0.45" stop-color="#b9a2d3"/><stop offset="0.8" stop-color="#9471b8"/><stop offset="1" stop-color="#7f52a8"/></radialGradient>
<radialGradient id="gNuc" cx="50%" cy="42%" r="62%"><stop offset="0" stop-color="#fbf8fd"/><stop offset="0.32" stop-color="#d3c1e4"/><stop offset="0.7" stop-color="#a182c3"/><stop offset="1" stop-color="#7c4ea6"/></radialGradient>
<radialGradient id="gBlu" cx="50%" cy="50%" r="60%"><stop offset="0" stop-color="#e2f1fb"/><stop offset="0.5" stop-color="#8fc3ea"/><stop offset="1" stop-color="#4f94d4"/></radialGradient>
<linearGradient id="gArr" x1="0" y1="0" x2="1" y2="0"><stop offset="0" stop-color="#f3ece2"/><stop offset="0.45" stop-color="#f7b98a"/><stop offset="1" stop-color="#f0681c"/></linearGradient>
<radialGradient id="gBeta" cx="50%" cy="50%" r="62%"><stop offset="0" stop-color="#bfe6ee"/><stop offset="0.5" stop-color="#86cadb"/><stop offset="1" stop-color="#3fa3c1"/></radialGradient>
<radialGradient id="gAlpha" cx="50%" cy="50%" r="62%"><stop offset="0" stop-color="#fbd0ae"/><stop offset="0.5" stop-color="#f7a96f"/><stop offset="1" stop-color="#ed7f3a"/></radialGradient>
<radialGradient id="gGamma" cx="50%" cy="50%" r="62%"><stop offset="0" stop-color="#b4d3f4"/><stop offset="0.5" stop-color="#76a5de"/><stop offset="1" stop-color="#4172bc"/></radialGradient>
<radialGradient id="gP" cx="50%" cy="45%" r="60%"><stop offset="0" stop-color="#ffc812"/><stop offset="1" stop-color="#fdbb00"/></radialGradient>
<marker id="ah" viewBox="0 0 10 10" refX="9.3" refY="5" markerUnits="userSpaceOnUse" markerWidth="8.6" markerHeight="7.8" orient="auto-start-reverse"><path d="M0,0 L10,5 L0,10 L3.2,5 z" fill="#000"/></marker>
</defs>
<path d="M106.1,630.1 A78.3,78.3 0 0 1 106.1,783.1" fill="none" stroke="#000" stroke-width="1.6" stroke-dasharray="5.9,3.3"/>
<ellipse cx="36.1" cy="712.5" rx="35.5" ry="21.4" fill="url(#gPur)"/>
<text x="34.6" y="717.4" font-size="14" text-anchor="middle">MLL4</text>
<path d="M50.6,690.8 C53.5,684.5 59.5,681.2 67.6,683.4" fill="none" stroke="#000" stroke-width="1.6" stroke-linecap="round"/>
<path d="M72.9,684.6 L65.3,686.1 L67.5,683.2 L66.9,679.7 z" fill="#000"/>
<path d="M50.6,731.4 C53.5,737.8 59.5,741.0 67.6,740.0" fill="none" stroke="#000" stroke-width="1.6" stroke-linecap="round"/>
<path d="M72.9,739.4 L66.6,743.9 L67.4,740.4 L65.4,737.4 z" fill="#000"/>
<line x1="78.6" y1="696.7" x2="147.4" y2="696.7" stroke="#000" stroke-width="1.5"/>
<ellipse cx="90.9" cy="675.1" rx="10.3" ry="15.5" fill="url(#gNuc)"/>
<ellipse cx="90.9" cy="693.1" rx="7.9" ry="4.7" fill="url(#gBlu)"/>
<path d="M126.7,696.7 V685.2 H140.5" fill="none" stroke="#000" stroke-width="1.2"/>
<path d="M139.6,681.9 L146.2,685.2 L139.6,688.5 z" fill="#000"/>
<line x1="78.6" y1="744.5" x2="147.4" y2="744.5" stroke="#000" stroke-width="1.5"/>
<ellipse cx="90.9" cy="722.3" rx="10.3" ry="15.5" fill="url(#gNuc)"/>
<ellipse cx="90.9" cy="740.6" rx="7.9" ry="4.7" fill="url(#gBlu)"/>
<path d="M126.7,744.5 V732.7 H140.5" fill="none" stroke="#000" stroke-width="1.2"/>
<path d="M139.6,729.4 L146.2,732.7 L139.6,736.0 z" fill="#000"/>
<text x="113.5" y="675.0" font-size="11.75" font-style="italic">Nt5c1a</text>
<text x="115.0" y="721.9" font-size="11.75" font-style="italic">Ampd3</text>
<path d="M172.2,693.8 H207.1 V688.7 L218.1,698.6 L207.1,708.6 V703.3 H172.2 z" fill="url(#gArr)" stroke="#1a1a1a" stroke-width="1.1" stroke-linejoin="miter"/>
<text x="236.7" y="701.4" font-size="11.75" text-anchor="middle">AMP</text>
<text x="239.7" y="647.7" font-size="11.75" text-anchor="middle">Ado</text>
<text x="239.4" y="756.6" font-size="11.75" text-anchor="middle">IMP</text>
<text x="186.4" y="676.0" font-size="11.75">NT5C1A</text>
<text x="188.0" y="726.2" font-size="11.75">AMPD3</text>
<line x1="236.3" y1="688.7" x2="236.3" y2="653.6" stroke="#000" stroke-width="1.3" marker-end="url(#ah)"/>
<line x1="236.3" y1="706.2" x2="236.3" y2="741.6" stroke="#000" stroke-width="1.3" marker-end="url(#ah)"/>
<line x1="250.8" y1="698.6" x2="283.8" y2="698.6" stroke="#000" stroke-width="1.3" marker-end="url(#ah)"/>
<ellipse cx="302.5" cy="675.6" rx="12" ry="22.2" fill="url(#gBeta)"/>
<ellipse cx="322.4" cy="708.4" rx="34.6" ry="17.5" fill="url(#gGamma)"/>
<ellipse cx="333.6" cy="678.2" rx="21.7" ry="16.5" fill="url(#gAlpha)"/>
<circle cx="351" cy="660.8" r="7.2" fill="url(#gP)"/>
<text x="351.2" y="665.6" font-size="11" text-anchor="middle" fill="#2a1e00">P</text>
<text x="302.3" y="681.8" font-size="17" text-anchor="middle">β</text>
<text x="333.5" y="683.9" font-size="18" text-anchor="middle">α</text>
<text x="321.0" y="711.2" font-size="18" text-anchor="middle">γ</text>
<text x="319.4" y="740.4" font-size="11.75" text-anchor="middle">AMPK activation</text>
</g>
<g id="panel-f">
<text x="391.0" y="591.0" font-size="19" font-weight="bold">f</text>
<text x="473.4" y="591.0" font-size="11.75" text-anchor="middle">CD</text>
<text x="583.2" y="591.0" font-size="11.75" text-anchor="middle">HFD</text>
<line x1="423.5" y1="598.4" x2="524.0" y2="598.4" stroke="#000" stroke-width="1.1"/>
<line x1="529.7" y1="598.4" x2="630.8" y2="598.4" stroke="#000" stroke-width="1.1"/>
<text x="449.1" y="613.1" font-size="11.75" text-anchor="middle">WT</text>
<text x="500.6" y="613.1" font-size="11.75" text-anchor="middle">MKO</text>
<text x="555.8" y="613.1" font-size="11.75" text-anchor="middle">WT</text>
<text x="605.7" y="613.1" font-size="11.75" text-anchor="middle">MKO</text>
<line x1="421.2" y1="618.5" x2="471.4" y2="618.5" stroke="#000" stroke-width="1.15"/>
<line x1="474.9" y1="618.5" x2="525.2" y2="618.5" stroke="#000" stroke-width="1.15"/>
<line x1="528.0" y1="618.5" x2="578.3" y2="618.5" stroke="#000" stroke-width="1.15"/>
<line x1="582.1" y1="618.5" x2="632.7" y2="618.5" stroke="#000" stroke-width="1.15"/>
<g shape-rendering="crispEdges">
<rect x="420.70" y="623.10" width="9.15" height="18.70" fill="#ffb4b4"/>
<rect x="420.70" y="641.80" width="9.15" height="18.30" fill="#ffc8c8"/>
<rect x="429.55" y="623.10" width="9.15" height="18.70" fill="#ff0000"/>
<rect x="429.55" y="641.80" width="9.15" height="18.30" fill="#ff0000"/>
<rect x="438.40" y="623.10" width="9.15" height="18.70" fill="#d7d7f8"/>
<rect x="438.40" y="641.80" width="9.15" height="18.30" fill="#d7d7f8"/>
<rect x="447.25" y="623.10" width="9.15" height="18.70" fill="#8282f8"/>
<rect x="447.25" y="641.80" width="9.15" height="18.30" fill="#5a5af8"/>
<rect x="456.10" y="623.10" width="9.15" height="18.70" fill="#aaaaf8"/>
<rect x="456.10" y="641.80" width="9.15" height="18.30" fill="#c8c8f8"/>
<rect x="464.95" y="623.10" width="9.15" height="18.70" fill="#dcdcf8"/>
<rect x="464.95" y="641.80" width="9.15" height="18.30" fill="#a5a5f8"/>
<rect x="473.80" y="623.10" width="9.15" height="18.70" fill="#ff5050"/>
<rect x="473.80" y="641.80" width="9.15" height="18.30" fill="#ff6e6e"/>
<rect x="482.65" y="623.10" width="9.15" height="18.70" fill="#ff0000"/>
<rect x="482.65" y="641.80" width="9.15" height="18.30" fill="#ff0000"/>
<rect x="491.50" y="623.10" width="9.15" height="18.70" fill="#ff5a5a"/>
<rect x="491.50" y="641.80" width="9.15" height="18.30" fill="#ff1414"/>
<rect x="500.35" y="623.10" width="9.15" height="18.70" fill="#ebebf8"/>
<rect x="500.35" y="641.80" width="9.15" height="18.30" fill="#ffe1e1"/>
<rect x="509.20" y="623.10" width="9.15" height="18.70" fill="#ffffff"/>
<rect x="509.20" y="641.80" width="9.15" height="18.30" fill="#ffc8c8"/>
<rect x="518.05" y="623.10" width="9.15" height="18.70" fill="#f0f0f8"/>
<rect x="518.05" y="641.80" width="9.15" height="18.30" fill="#aaaaf8"/>
<rect x="526.90" y="623.10" width="9.15" height="18.70" fill="#ffebeb"/>
<rect x="526.90" y="641.80" width="9.15" height="18.30" fill="#b4b4f8"/>
<rect x="535.75" y="623.10" width="9.15" height="18.70" fill="#ff8c8c"/>
<rect x="535.75" y="641.80" width="9.15" height="18.30" fill="#ffd7d7"/>
<rect x="544.60" y="623.10" width="9.15" height="18.70" fill="#ffd7d7"/>
<rect x="544.60" y="641.80" width="9.15" height="18.30" fill="#ffe1e1"/>
<rect x="553.45" y="623.10" width="9.15" height="18.70" fill="#7878f8"/>
<rect x="553.45" y="641.80" width="9.15" height="18.30" fill="#6e6ef8"/>
<rect x="562.30" y="623.10" width="9.15" height="18.70" fill="#ffb4b4"/>
<rect x="562.30" y="641.80" width="9.15" height="18.30" fill="#ffb4b4"/>
<rect x="571.15" y="623.10" width="9.15" height="18.70" fill="#6e6ef8"/>
<rect x="571.15" y="641.80" width="9.15" height="18.30" fill="#6464f8"/>
<rect x="580.00" y="623.10" width="9.15" height="18.70" fill="#ff0f0f"/>
<rect x="580.00" y="641.80" width="9.15" height="18.30" fill="#ff0000"/>
<rect x="588.85" y="623.10" width="9.15" height="18.70" fill="#dcdcf8"/>
<rect x="588.85" y="641.80" width="9.15" height="18.30" fill="#9696f8"/>
<rect x="597.70" y="623.10" width="9.15" height="18.70" fill="#ffb9b9"/>
<rect x="597.70" y="641.80" width="9.15" height="18.30" fill="#ff8c8c"/>
<rect x="606.55" y="623.10" width="9.15" height="18.70" fill="#ff7878"/>
<rect x="606.55" y="641.80" width="9.15" height="18.30" fill="#ff1e1e"/>
<rect x="615.40" y="623.10" width="9.15" height="18.70" fill="#ff3c3c"/>
<rect x="615.40" y="641.80" width="9.15" height="18.30" fill="#ff3737"/>
<rect x="624.25" y="623.10" width="9.15" height="18.70" fill="#ff6464"/>
<rect x="624.25" y="641.80" width="9.15" height="18.30" fill="#ff4b4b"/>
</g>
<line x1="473.6" y1="625.0" x2="473.6" y2="657.0" stroke="#000" stroke-width="1.3" stroke-dasharray="3.9,3.07"/>
<line x1="526.7" y1="625.0" x2="526.7" y2="657.0" stroke="#000" stroke-width="1.3" stroke-dasharray="3.9,3.07"/>
<line x1="579.8" y1="625.0" x2="579.8" y2="657.0" stroke="#000" stroke-width="1.3" stroke-dasharray="3.9,3.07"/>
<text x="635.3" y="638.2" font-size="11.5">ADP/ATP</text>
<text x="635.3" y="656.0" font-size="11.5">AMP/ATP</text>
<g shape-rendering="crispEdges">
<rect x="484.30" y="664.60" width="4.53" height="8.20" fill="#2929fa"/>
<rect x="488.54" y="664.60" width="4.53" height="8.20" fill="#3f3ffb"/>
<rect x="492.77" y="664.60" width="4.53" height="8.20" fill="#5656fb"/>
<rect x="497.00" y="664.60" width="4.53" height="8.20" fill="#6c6cfc"/>
<rect x="501.24" y="664.60" width="4.53" height="8.20" fill="#8383fc"/>
<rect x="505.48" y="664.60" width="4.53" height="8.20" fill="#9999fd"/>
<rect x="509.71" y="664.60" width="4.53" height="8.20" fill="#b0b0fd"/>
<rect x="513.95" y="664.60" width="4.53" height="8.20" fill="#c7c7fe"/>
<rect x="518.18" y="664.60" width="4.53" height="8.20" fill="#ddddfe"/>
<rect x="522.41" y="664.60" width="4.53" height="8.20" fill="#f4f4ff"/>
<rect x="526.65" y="664.60" width="4.53" height="8.20" fill="#fff4f4"/>
<rect x="530.88" y="664.60" width="4.53" height="8.20" fill="#ffe0e0"/>
<rect x="535.12" y="664.60" width="4.53" height="8.20" fill="#ffcaca"/>
<rect x="539.36" y="664.60" width="4.53" height="8.20" fill="#ffb6b6"/>
<rect x="543.59" y="664.60" width="4.53" height="8.20" fill="#ffa0a0"/>
<rect x="547.83" y="664.60" width="4.53" height="8.20" fill="#ff8b8b"/>
<rect x="552.06" y="664.60" width="4.53" height="8.20" fill="#ff7777"/>
<rect x="556.29" y="664.60" width="4.53" height="8.20" fill="#ff6161"/>
<rect x="560.53" y="664.60" width="4.53" height="8.20" fill="#ff4c4c"/>
<rect x="564.76" y="664.60" width="4.53" height="8.20" fill="#ff3838"/>
</g>
<line x1="484.8" y1="672.5" x2="484.8" y2="676.3" stroke="#000" stroke-width="1"/>
<line x1="526.6" y1="672.5" x2="526.6" y2="676.3" stroke="#000" stroke-width="1"/>
<line x1="568.5" y1="672.5" x2="568.5" y2="676.3" stroke="#000" stroke-width="1"/>
<text x="482.6" y="687.8" font-size="11.75" text-anchor="middle">-1.5</text>
<text x="527.0" y="687.8" font-size="11.75" text-anchor="middle">0</text>
<text x="568.6" y="687.8" font-size="11.75" text-anchor="middle">1.5</text>
</g>
<g id="panel-g">
<text x="390.3" y="714.2" font-size="19" font-weight="bold">g</text>
<rect x="479.60" y="771.60" width="14.70" height="35.50" fill="#fff" stroke="#000" stroke-width="1.3"/>
<rect x="496.00" y="741.30" width="14.70" height="65.80" fill="#ff6600" stroke="#000" stroke-width="1.3"/>
<line x1="486.8" y1="766.9" x2="486.8" y2="771.6" stroke="#000" stroke-width="1.2"/>
<line x1="483.1" y1="766.9" x2="490.5" y2="766.9" stroke="#000" stroke-width="1.2"/>
<line x1="503.4" y1="735.2" x2="503.4" y2="741.3" stroke="#000" stroke-width="1.2"/>
<line x1="499.7" y1="735.2" x2="507.1" y2="735.2" stroke="#000" stroke-width="1.2"/>
<line x1="471.4" y1="715.0" x2="471.4" y2="807.7" stroke="#000" stroke-width="1.3"/>
<line x1="465.6" y1="807.1" x2="518.8" y2="807.1" stroke="#000" stroke-width="1.3"/>
<line x1="465.6" y1="715.6" x2="471.4" y2="715.6" stroke="#000" stroke-width="1.3"/>
<text x="462.8" y="720.5" font-size="11.75" text-anchor="end">0.20</text>
<line x1="465.6" y1="738.5" x2="471.4" y2="738.5" stroke="#000" stroke-width="1.3"/>
<text x="462.8" y="743.4" font-size="11.75" text-anchor="end">0.15</text>
<line x1="465.6" y1="761.4" x2="471.4" y2="761.4" stroke="#000" stroke-width="1.3"/>
<text x="462.8" y="766.2" font-size="11.75" text-anchor="end">0.10</text>
<line x1="465.6" y1="784.2" x2="471.4" y2="784.2" stroke="#000" stroke-width="1.3"/>
<text x="462.8" y="789.1" font-size="11.75" text-anchor="end">0.05</text>
<line x1="465.6" y1="807.1" x2="471.4" y2="807.1" stroke="#000" stroke-width="1.3"/>
<text x="462.8" y="812.0" font-size="11.75" text-anchor="end">0</text>
<circle cx="481.7" cy="763.2" r="1.35" fill="#000"/>
<circle cx="487.1" cy="765.8" r="1.35" fill="#000"/>
<circle cx="492.0" cy="765.1" r="1.35" fill="#000"/>
<circle cx="484.3" cy="781.4" r="1.35" fill="#000"/>
<circle cx="489.4" cy="781.4" r="1.35" fill="#000"/>
<circle cx="503.0" cy="724.9" r="1.35" fill="#000"/>
<circle cx="505.3" cy="742.4" r="1.35" fill="#000"/>
<circle cx="503.0" cy="759.2" r="1.35" fill="#000"/>
<circle cx="500.2" cy="741.0" r="1.35" fill="#000"/>
<text x="503.8" y="723.5" font-size="11.5" text-anchor="middle" fill="#333" letter-spacing="1.5" style="font-family:&quot;DejaVu Sans&quot;,&quot;Liberation Sans&quot;,sans-serif">**</text>
<text x="491.3" y="819.2" font-size="11.75" text-anchor="middle">HFD</text>
<text transform="translate(430.9,761) rotate(-90)" font-size="11.75" text-anchor="middle">AMP/ATP</text>
<rect x="575.70" y="767.90" width="14.90" height="39.20" fill="#fff" stroke="#000" stroke-width="1.3"/>
<rect x="592.00" y="744.80" width="14.80" height="62.30" fill="#ff6600" stroke="#000" stroke-width="1.3"/>
<line x1="582.9" y1="763.4" x2="582.9" y2="767.9" stroke="#000" stroke-width="1.2"/>
<line x1="579.2" y1="763.4" x2="586.6" y2="763.4" stroke="#000" stroke-width="1.2"/>
<line x1="599.3" y1="738.7" x2="599.3" y2="744.8" stroke="#000" stroke-width="1.2"/>
<line x1="595.6" y1="738.7" x2="603.0" y2="738.7" stroke="#000" stroke-width="1.2"/>
<line x1="567.5" y1="715.0" x2="567.5" y2="807.7" stroke="#000" stroke-width="1.3"/>
<line x1="561.7" y1="807.1" x2="615.6" y2="807.1" stroke="#000" stroke-width="1.3"/>
<line x1="561.7" y1="715.6" x2="567.5" y2="715.6" stroke="#000" stroke-width="1.3"/>
<text x="558.2" y="720.5" font-size="11.75" text-anchor="end">1.0</text>
<line x1="561.7" y1="733.9" x2="567.5" y2="733.9" stroke="#000" stroke-width="1.3"/>
<text x="558.2" y="738.8" font-size="11.75" text-anchor="end">0.8</text>
<line x1="561.7" y1="752.2" x2="567.5" y2="752.2" stroke="#000" stroke-width="1.3"/>
<text x="558.2" y="757.1" font-size="11.75" text-anchor="end">0.6</text>
<line x1="561.7" y1="770.5" x2="567.5" y2="770.5" stroke="#000" stroke-width="1.3"/>
<text x="558.2" y="775.4" font-size="11.75" text-anchor="end">0.4</text>
<line x1="561.7" y1="788.8" x2="567.5" y2="788.8" stroke="#000" stroke-width="1.3"/>
<text x="558.2" y="793.7" font-size="11.75" text-anchor="end">0.2</text>
<line x1="561.7" y1="807.1" x2="567.5" y2="807.1" stroke="#000" stroke-width="1.3"/>
<text x="558.2" y="812.0" font-size="11.75" text-anchor="end">0</text>
<circle cx="583.4" cy="756.9" r="1.35" fill="#000"/>
<circle cx="583.4" cy="761.1" r="1.35" fill="#000"/>
<circle cx="577.6" cy="770.9" r="1.35" fill="#000"/>
<circle cx="583.4" cy="774.4" r="1.35" fill="#000"/>
<circle cx="588.5" cy="774.4" r="1.35" fill="#000"/>
<circle cx="597.4" cy="730.7" r="1.35" fill="#000"/>
<circle cx="600.9" cy="731.7" r="1.35" fill="#000"/>
<circle cx="597.4" cy="749.2" r="1.35" fill="#000"/>
<circle cx="600.9" cy="750.6" r="1.35" fill="#000"/>
<circle cx="599.3" cy="760.6" r="1.35" fill="#000"/>
<text x="600.0" y="723.5" font-size="11.5" text-anchor="middle" fill="#333" letter-spacing="1.5" style="font-family:&quot;DejaVu Sans&quot;,&quot;Liberation Sans&quot;,sans-serif">**</text>
<text x="591.1" y="819.2" font-size="11.75" text-anchor="middle">HFD</text>
<text transform="translate(532.6,761) rotate(-90)" font-size="11.75" text-anchor="middle">ADP/ATP</text>
<rect x="628.30" y="714.70" width="8.60" height="8.20" fill="#fff" stroke="#000" stroke-width="1.2"/>
<rect x="628.30" y="724.40" width="8.60" height="8.00" fill="#ff6600" stroke="#000" stroke-width="1.2"/>
<text x="638.4" y="723.0" font-size="11.75">WT</text>
<text x="638.4" y="732.8" font-size="11.75">MKO</text>
</g>
</svg></body></html>
